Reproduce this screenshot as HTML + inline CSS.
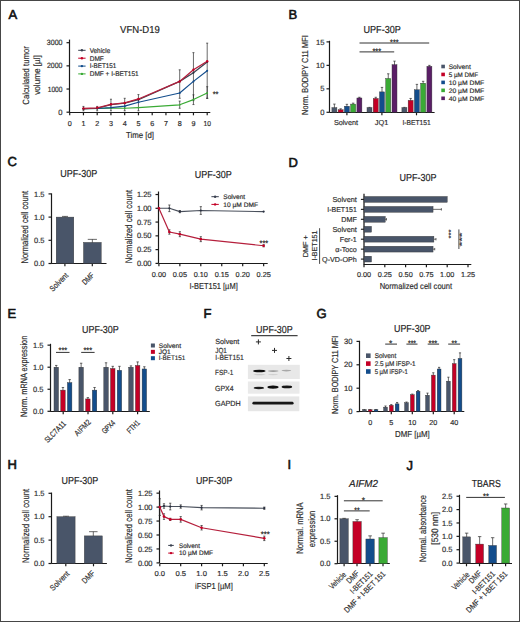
<!DOCTYPE html>
<html><head><meta charset="utf-8"><title>Figure</title>
<style>
html,body{margin:0;padding:0;background:#fff;}
body{width:520px;height:622px;overflow:hidden;}
svg{display:block;font-family:"Liberation Sans",sans-serif;fill:#2e2e2e;text-rendering:geometricPrecision;}

</style></head>
<body>
<svg width="520" height="622" viewBox="0 0 520 622">
<rect x="0" y="0" width="520" height="622" fill="#fff"/>
<text x="8.4" y="18.6" font-size="13" fill="#111" stroke="#111" stroke-width="0.6">A</text>
<text x="288.6" y="18.5" font-size="13" fill="#111" stroke="#111" stroke-width="0.6">B</text>
<text x="7.6" y="166.3" font-size="13" fill="#111" stroke="#111" stroke-width="0.6">C</text>
<text x="288.4" y="166.8" font-size="13" fill="#111" stroke="#111" stroke-width="0.6">D</text>
<text x="7.6" y="317.5" font-size="13" fill="#111" stroke="#111" stroke-width="0.6">E</text>
<text x="203.6" y="318.4" font-size="13" fill="#111" stroke="#111" stroke-width="0.6">F</text>
<text x="316.4" y="318" font-size="13" fill="#111" stroke="#111" stroke-width="0.6">G</text>
<text x="7.4" y="469.3" font-size="13" fill="#111" stroke="#111" stroke-width="0.6">H</text>
<text x="287.6" y="469" font-size="13" fill="#111" stroke="#111" stroke-width="0.6">I</text>
<text x="406.4" y="469.7" font-size="13" fill="#111" stroke="#111" stroke-width="0.6">J</text>
<text x="139.95" y="32.8" font-size="10.2" text-anchor="middle" textLength="39.7" lengthAdjust="spacingAndGlyphs" fill="#222" stroke="#222" stroke-width="0.18">VFN-D19</text>
<line x1="69.5" y1="39.6" x2="69.5" y2="112.4" stroke="#1a1a1a" stroke-width="1.2"/>
<line x1="66.5" y1="42.69" x2="69.5" y2="42.69" stroke="#1a1a1a" stroke-width="1.2"/>
<text x="62.5" y="45.3" font-size="7.6" text-anchor="end" textLength="15.7" lengthAdjust="spacingAndGlyphs" stroke="#2e2e2e" stroke-width="0.18">3000</text>
<line x1="66.5" y1="65.86" x2="69.5" y2="65.86" stroke="#1a1a1a" stroke-width="1.2"/>
<text x="62.5" y="68.47" font-size="7.6" text-anchor="end" textLength="15.5" lengthAdjust="spacingAndGlyphs" stroke="#2e2e2e" stroke-width="0.18">2000</text>
<line x1="66.5" y1="89.03" x2="69.5" y2="89.03" stroke="#1a1a1a" stroke-width="1.2"/>
<text x="62.5" y="91.64" font-size="7.6" text-anchor="end" textLength="14.8" lengthAdjust="spacingAndGlyphs" stroke="#2e2e2e" stroke-width="0.18">1000</text>
<line x1="66.5" y1="112.2" x2="69.5" y2="112.2" stroke="#1a1a1a" stroke-width="1.2"/>
<text x="62.5" y="114.81" font-size="7.6" text-anchor="end" stroke="#2e2e2e" stroke-width="0.18">0</text>
<line x1="69.2" y1="112.5" x2="210.3" y2="112.5" stroke="#1a1a1a" stroke-width="1.2"/>
<line x1="69.7" y1="112.5" x2="69.7" y2="115.3" stroke="#1a1a1a" stroke-width="1.2"/>
<text x="69.7" y="125.78" font-size="7.2" text-anchor="middle" stroke="#2e2e2e" stroke-width="0.18">0</text>
<line x1="83.45" y1="112.5" x2="83.45" y2="115.3" stroke="#1a1a1a" stroke-width="1.2"/>
<text x="83.45" y="125.78" font-size="7.2" text-anchor="middle" stroke="#2e2e2e" stroke-width="0.18">1</text>
<line x1="97.2" y1="112.5" x2="97.2" y2="115.3" stroke="#1a1a1a" stroke-width="1.2"/>
<text x="97.2" y="125.78" font-size="7.2" text-anchor="middle" stroke="#2e2e2e" stroke-width="0.18">2</text>
<line x1="110.95" y1="112.5" x2="110.95" y2="115.3" stroke="#1a1a1a" stroke-width="1.2"/>
<text x="110.95" y="125.78" font-size="7.2" text-anchor="middle" stroke="#2e2e2e" stroke-width="0.18">3</text>
<line x1="124.7" y1="112.5" x2="124.7" y2="115.3" stroke="#1a1a1a" stroke-width="1.2"/>
<text x="124.7" y="125.78" font-size="7.2" text-anchor="middle" stroke="#2e2e2e" stroke-width="0.18">4</text>
<line x1="138.45" y1="112.5" x2="138.45" y2="115.3" stroke="#1a1a1a" stroke-width="1.2"/>
<text x="138.45" y="125.78" font-size="7.2" text-anchor="middle" stroke="#2e2e2e" stroke-width="0.18">5</text>
<line x1="152.2" y1="112.5" x2="152.2" y2="115.3" stroke="#1a1a1a" stroke-width="1.2"/>
<text x="152.2" y="125.78" font-size="7.2" text-anchor="middle" stroke="#2e2e2e" stroke-width="0.18">6</text>
<line x1="165.95" y1="112.5" x2="165.95" y2="115.3" stroke="#1a1a1a" stroke-width="1.2"/>
<text x="165.95" y="125.78" font-size="7.2" text-anchor="middle" stroke="#2e2e2e" stroke-width="0.18">7</text>
<line x1="179.7" y1="112.5" x2="179.7" y2="115.3" stroke="#1a1a1a" stroke-width="1.2"/>
<text x="179.7" y="125.78" font-size="7.2" text-anchor="middle" stroke="#2e2e2e" stroke-width="0.18">8</text>
<line x1="193.45" y1="112.5" x2="193.45" y2="115.3" stroke="#1a1a1a" stroke-width="1.2"/>
<text x="193.45" y="125.78" font-size="7.2" text-anchor="middle" stroke="#2e2e2e" stroke-width="0.18">9</text>
<line x1="207.2" y1="112.5" x2="207.2" y2="115.3" stroke="#1a1a1a" stroke-width="1.2"/>
<text x="207.2" y="125.78" font-size="7.2" text-anchor="middle" textLength="7.5" lengthAdjust="spacingAndGlyphs" stroke="#2e2e2e" stroke-width="0.18">10</text>
<text x="26.3" y="77.65" font-size="9" text-anchor="middle" textLength="58.5" lengthAdjust="spacingAndGlyphs" stroke="#2e2e2e" stroke-width="0.18" transform="rotate(-90 26.3 75.4)">Calculated tumor</text>
<text x="37.8" y="77.25" font-size="9" text-anchor="middle" textLength="39.5" lengthAdjust="spacingAndGlyphs" stroke="#2e2e2e" stroke-width="0.18" transform="rotate(-90 37.8 75)">volume [µl]</text>
<text x="140" y="138.05" font-size="8.6" text-anchor="middle" textLength="28" lengthAdjust="spacingAndGlyphs" stroke="#2e2e2e" stroke-width="0.18">Time [d]</text>
<line x1="83.45" y1="106.41" x2="83.45" y2="110.81" stroke="#2b2b2b" stroke-width="0.7"/>
<line x1="82.45" y1="106.41" x2="84.45" y2="106.41" stroke="#2b2b2b" stroke-width="0.7"/>
<line x1="82.45" y1="110.81" x2="84.45" y2="110.81" stroke="#2b2b2b" stroke-width="0.7"/>
<line x1="97.2" y1="106.41" x2="97.2" y2="110.81" stroke="#2b2b2b" stroke-width="0.7"/>
<line x1="96.2" y1="106.41" x2="98.2" y2="106.41" stroke="#2b2b2b" stroke-width="0.7"/>
<line x1="96.2" y1="110.81" x2="98.2" y2="110.81" stroke="#2b2b2b" stroke-width="0.7"/>
<line x1="110.95" y1="99.22" x2="110.95" y2="110.81" stroke="#2b2b2b" stroke-width="0.7"/>
<line x1="109.95" y1="99.22" x2="111.95" y2="99.22" stroke="#2b2b2b" stroke-width="0.7"/>
<line x1="109.95" y1="110.81" x2="111.95" y2="110.81" stroke="#2b2b2b" stroke-width="0.7"/>
<line x1="124.7" y1="98.3" x2="124.7" y2="110.81" stroke="#2b2b2b" stroke-width="0.7"/>
<line x1="123.7" y1="98.3" x2="125.7" y2="98.3" stroke="#2b2b2b" stroke-width="0.7"/>
<line x1="123.7" y1="110.81" x2="125.7" y2="110.81" stroke="#2b2b2b" stroke-width="0.7"/>
<line x1="138.45" y1="94.59" x2="138.45" y2="110.81" stroke="#2b2b2b" stroke-width="0.7"/>
<line x1="137.45" y1="94.59" x2="139.45" y2="94.59" stroke="#2b2b2b" stroke-width="0.7"/>
<line x1="137.45" y1="110.81" x2="139.45" y2="110.81" stroke="#2b2b2b" stroke-width="0.7"/>
<line x1="179.7" y1="69.8" x2="179.7" y2="98.3" stroke="#2b2b2b" stroke-width="0.7"/>
<line x1="178.7" y1="69.8" x2="180.7" y2="69.8" stroke="#2b2b2b" stroke-width="0.7"/>
<line x1="178.7" y1="98.3" x2="180.7" y2="98.3" stroke="#2b2b2b" stroke-width="0.7"/>
<line x1="193.45" y1="52.65" x2="193.45" y2="100.62" stroke="#2b2b2b" stroke-width="0.7"/>
<line x1="192.45" y1="52.65" x2="194.45" y2="52.65" stroke="#2b2b2b" stroke-width="0.7"/>
<line x1="192.45" y1="100.62" x2="194.45" y2="100.62" stroke="#2b2b2b" stroke-width="0.7"/>
<line x1="207.2" y1="43.15" x2="207.2" y2="98.3" stroke="#2b2b2b" stroke-width="0.7"/>
<line x1="206.2" y1="43.15" x2="208.2" y2="43.15" stroke="#2b2b2b" stroke-width="0.7"/>
<line x1="206.2" y1="98.3" x2="208.2" y2="98.3" stroke="#2b2b2b" stroke-width="0.7"/>
<line x1="179.7" y1="101.08" x2="179.7" y2="108.26" stroke="#2b2b2b" stroke-width="0.7"/>
<line x1="178.7" y1="101.08" x2="180.7" y2="101.08" stroke="#2b2b2b" stroke-width="0.7"/>
<line x1="178.7" y1="108.26" x2="180.7" y2="108.26" stroke="#2b2b2b" stroke-width="0.7"/>
<line x1="193.45" y1="94.82" x2="193.45" y2="104.55" stroke="#2b2b2b" stroke-width="0.7"/>
<line x1="192.45" y1="94.82" x2="194.45" y2="94.82" stroke="#2b2b2b" stroke-width="0.7"/>
<line x1="192.45" y1="104.55" x2="194.45" y2="104.55" stroke="#2b2b2b" stroke-width="0.7"/>
<line x1="207.2" y1="86.71" x2="207.2" y2="98.3" stroke="#2b2b2b" stroke-width="0.7"/>
<line x1="206.2" y1="86.71" x2="208.2" y2="86.71" stroke="#2b2b2b" stroke-width="0.7"/>
<line x1="206.2" y1="98.3" x2="208.2" y2="98.3" stroke="#2b2b2b" stroke-width="0.7"/>
<polyline points="83.45,108.72 97.2,108.49 110.95,108.15 124.7,108.26 138.45,107.57 179.7,104.79 193.45,99.57 207.2,92.97" fill="none" stroke="#3aaa35" stroke-width="1.2" stroke-linejoin="round"/>
<polyline points="83.45,108.72 97.2,108.49 110.95,107.57 124.7,106.18 138.45,102.24 179.7,92.97 193.45,81.38 207.2,70.73" fill="none" stroke="#134d8c" stroke-width="1.2" stroke-linejoin="round"/>
<polyline points="83.45,108.72 97.2,108.26 110.95,104.55 124.7,103.16 138.45,99.69 179.7,81.38 193.45,72.81 207.2,61.92" fill="none" stroke="#3a4150" stroke-width="1.2" stroke-linejoin="round"/>
<polyline points="83.45,108.49 97.2,107.8 110.95,104.32 124.7,102.93 138.45,98.99 179.7,81.38 193.45,69.8 207.2,61.23" fill="none" stroke="#b51f3c" stroke-width="1.3" stroke-linejoin="round"/>
<circle cx="83.45" cy="108.72" r="0.9" fill="#3aaa35"/>
<circle cx="97.2" cy="108.49" r="0.9" fill="#3aaa35"/>
<circle cx="110.95" cy="108.15" r="0.9" fill="#3aaa35"/>
<circle cx="124.7" cy="108.26" r="0.9" fill="#3aaa35"/>
<circle cx="138.45" cy="107.57" r="0.9" fill="#3aaa35"/>
<circle cx="179.7" cy="104.79" r="0.9" fill="#3aaa35"/>
<circle cx="193.45" cy="99.57" r="0.9" fill="#3aaa35"/>
<circle cx="207.2" cy="92.97" r="0.9" fill="#3aaa35"/>
<circle cx="83.45" cy="108.72" r="1" fill="#134d8c"/>
<circle cx="97.2" cy="108.49" r="1" fill="#134d8c"/>
<circle cx="110.95" cy="107.57" r="1" fill="#134d8c"/>
<circle cx="124.7" cy="106.18" r="1" fill="#134d8c"/>
<circle cx="138.45" cy="102.24" r="1" fill="#134d8c"/>
<circle cx="179.7" cy="92.97" r="1" fill="#134d8c"/>
<circle cx="193.45" cy="81.38" r="1" fill="#134d8c"/>
<circle cx="207.2" cy="70.73" r="1" fill="#134d8c"/>
<circle cx="83.45" cy="108.72" r="1" fill="#2a3040"/>
<circle cx="97.2" cy="108.26" r="1" fill="#2a3040"/>
<circle cx="110.95" cy="104.55" r="1" fill="#2a3040"/>
<circle cx="124.7" cy="103.16" r="1" fill="#2a3040"/>
<circle cx="138.45" cy="99.69" r="1" fill="#2a3040"/>
<circle cx="179.7" cy="81.38" r="1" fill="#2a3040"/>
<circle cx="193.45" cy="72.81" r="1" fill="#2a3040"/>
<circle cx="207.2" cy="61.92" r="1" fill="#2a3040"/>
<circle cx="83.45" cy="108.49" r="1.2" fill="#c40026"/>
<circle cx="97.2" cy="107.8" r="1.2" fill="#c40026"/>
<circle cx="110.95" cy="104.32" r="1.2" fill="#c40026"/>
<circle cx="124.7" cy="102.93" r="1.2" fill="#c40026"/>
<circle cx="138.45" cy="98.99" r="1.2" fill="#c40026"/>
<circle cx="179.7" cy="81.38" r="1.2" fill="#c40026"/>
<circle cx="193.45" cy="69.8" r="1.2" fill="#c40026"/>
<circle cx="207.2" cy="61.23" r="1.2" fill="#c40026"/>
<text x="215.6" y="97.04" font-size="8.4" text-anchor="middle" textLength="5.8" lengthAdjust="spacingAndGlyphs" fill="#1e1e1e" stroke="#1e1e1e" stroke-width="0.18">**</text>
<line x1="78.2" y1="50.3" x2="85.6" y2="50.3" stroke="#3a4150" stroke-width="1"/>
<circle cx="81.9" cy="50.3" r="1.2" fill="#3a4150"/>
<text x="89.7" y="52.6" font-size="6.8" textLength="20.5" lengthAdjust="spacingAndGlyphs" stroke="#2e2e2e" stroke-width="0.18">Vehicle</text>
<line x1="78.2" y1="58.2" x2="85.6" y2="58.2" stroke="#c40026" stroke-width="1"/>
<circle cx="81.9" cy="58.2" r="1.2" fill="#c40026"/>
<text x="89.7" y="60.5" font-size="6.8" textLength="14.1" lengthAdjust="spacingAndGlyphs" stroke="#2e2e2e" stroke-width="0.18">DMF</text>
<line x1="78.2" y1="66.1" x2="85.6" y2="66.1" stroke="#134d8c" stroke-width="1"/>
<circle cx="81.9" cy="66.1" r="1.2" fill="#134d8c"/>
<text x="89.7" y="68.4" font-size="6.8" textLength="26.5" lengthAdjust="spacingAndGlyphs" stroke="#2e2e2e" stroke-width="0.18">I-BET151</text>
<line x1="78.2" y1="73.9" x2="85.6" y2="73.9" stroke="#3aaa35" stroke-width="1"/>
<circle cx="81.9" cy="73.9" r="1.2" fill="#3aaa35"/>
<text x="89.7" y="76.2" font-size="6.8" textLength="49" lengthAdjust="spacingAndGlyphs" stroke="#2e2e2e" stroke-width="0.18">DMF + I-BET151</text>
<text x="382.15" y="32.5" font-size="10.2" text-anchor="middle" textLength="37.3" lengthAdjust="spacingAndGlyphs" fill="#222" stroke="#222" stroke-width="0.18">UPF-30P</text>
<line x1="329.5" y1="40.8" x2="329.5" y2="112.5" stroke="#1a1a1a" stroke-width="1.2"/>
<line x1="326.5" y1="41.89" x2="329.5" y2="41.89" stroke="#1a1a1a" stroke-width="1.2"/>
<text x="324.5" y="44.5" font-size="7.6" text-anchor="end" stroke="#2e2e2e" stroke-width="0.18">15</text>
<line x1="326.5" y1="65.36" x2="329.5" y2="65.36" stroke="#1a1a1a" stroke-width="1.2"/>
<text x="324.5" y="67.97" font-size="7.6" text-anchor="end" stroke="#2e2e2e" stroke-width="0.18">10</text>
<line x1="326.5" y1="88.83" x2="329.5" y2="88.83" stroke="#1a1a1a" stroke-width="1.2"/>
<text x="324.5" y="91.44" font-size="7.6" text-anchor="end" stroke="#2e2e2e" stroke-width="0.18">5</text>
<line x1="326.5" y1="112.3" x2="329.5" y2="112.3" stroke="#1a1a1a" stroke-width="1.2"/>
<text x="324.5" y="114.91" font-size="7.6" text-anchor="end" stroke="#2e2e2e" stroke-width="0.18">0</text>
<line x1="329.4" y1="112.5" x2="434.6" y2="112.5" stroke="#1a1a1a" stroke-width="1.2"/>
<line x1="346.9" y1="112.5" x2="346.9" y2="115.3" stroke="#1a1a1a" stroke-width="1.2"/>
<line x1="381.9" y1="112.5" x2="381.9" y2="115.3" stroke="#1a1a1a" stroke-width="1.2"/>
<line x1="416.5" y1="112.5" x2="416.5" y2="115.3" stroke="#1a1a1a" stroke-width="1.2"/>
<text x="346" y="124.7" font-size="7.2" text-anchor="middle" textLength="24.2" lengthAdjust="spacingAndGlyphs" stroke="#2e2e2e" stroke-width="0.18">Solvent</text>
<text x="381.5" y="124.7" font-size="7.2" text-anchor="middle" textLength="13.5" lengthAdjust="spacingAndGlyphs" stroke="#2e2e2e" stroke-width="0.18">JQ1</text>
<text x="416.6" y="125.38" font-size="7.2" text-anchor="middle" textLength="28.3" lengthAdjust="spacingAndGlyphs" stroke="#2e2e2e" stroke-width="0.18">I-BET151</text>
<text x="305.8" y="77.3" font-size="8.8" text-anchor="middle" textLength="79.6" lengthAdjust="spacingAndGlyphs" stroke="#2e2e2e" stroke-width="0.18" transform="rotate(-90 305.8 75.1)">Norm. BODIPY C11 MFI</text>
<line x1="334.4" y1="104.09" x2="334.4" y2="108.11" stroke="#2b2b2b" stroke-width="0.7"/>
<line x1="333.2" y1="104.09" x2="335.6" y2="104.09" stroke="#2b2b2b" stroke-width="0.7"/>
<rect x="331.9" y="107.61" width="5" height="4.69" fill="#495569" stroke="#333" stroke-width="0.4"/>
<line x1="340.65" y1="108.78" x2="340.65" y2="110.22" stroke="#2b2b2b" stroke-width="0.7"/>
<line x1="339.45" y1="108.78" x2="341.85" y2="108.78" stroke="#2b2b2b" stroke-width="0.7"/>
<rect x="338.15" y="109.72" width="5" height="2.58" fill="#c40026" stroke="#333" stroke-width="0.4"/>
<line x1="346.9" y1="104.32" x2="346.9" y2="106.7" stroke="#2b2b2b" stroke-width="0.7"/>
<line x1="345.7" y1="104.32" x2="348.1" y2="104.32" stroke="#2b2b2b" stroke-width="0.7"/>
<rect x="344.4" y="106.2" width="5" height="6.1" fill="#134d8c" stroke="#333" stroke-width="0.4"/>
<line x1="353.15" y1="103.15" x2="353.15" y2="104.59" stroke="#2b2b2b" stroke-width="0.7"/>
<line x1="351.95" y1="103.15" x2="354.35" y2="103.15" stroke="#2b2b2b" stroke-width="0.7"/>
<rect x="350.65" y="104.09" width="5" height="8.21" fill="#3aaa35" stroke="#333" stroke-width="0.4"/>
<line x1="359.4" y1="97.28" x2="359.4" y2="98.48" stroke="#2b2b2b" stroke-width="0.7"/>
<line x1="358.2" y1="97.28" x2="360.6" y2="97.28" stroke="#2b2b2b" stroke-width="0.7"/>
<rect x="356.9" y="97.98" width="5" height="14.32" fill="#5a1e66" stroke="#333" stroke-width="0.4"/>
<line x1="369.5" y1="107.37" x2="369.5" y2="108.11" stroke="#2b2b2b" stroke-width="0.7"/>
<line x1="368.3" y1="107.37" x2="370.7" y2="107.37" stroke="#2b2b2b" stroke-width="0.7"/>
<rect x="367" y="107.61" width="5" height="4.69" fill="#495569" stroke="#333" stroke-width="0.4"/>
<line x1="375.75" y1="97.28" x2="375.75" y2="98.95" stroke="#2b2b2b" stroke-width="0.7"/>
<line x1="374.55" y1="97.28" x2="376.95" y2="97.28" stroke="#2b2b2b" stroke-width="0.7"/>
<rect x="373.25" y="98.45" width="5" height="13.85" fill="#c40026" stroke="#333" stroke-width="0.4"/>
<line x1="382" y1="87.42" x2="382" y2="92.38" stroke="#2b2b2b" stroke-width="0.7"/>
<line x1="380.8" y1="87.42" x2="383.2" y2="87.42" stroke="#2b2b2b" stroke-width="0.7"/>
<rect x="379.5" y="91.88" width="5" height="20.42" fill="#134d8c" stroke="#333" stroke-width="0.4"/>
<line x1="388.25" y1="73.81" x2="388.25" y2="79" stroke="#2b2b2b" stroke-width="0.7"/>
<line x1="387.05" y1="73.81" x2="389.45" y2="73.81" stroke="#2b2b2b" stroke-width="0.7"/>
<rect x="385.75" y="78.5" width="5" height="33.8" fill="#3aaa35" stroke="#333" stroke-width="0.4"/>
<line x1="394.5" y1="61.14" x2="394.5" y2="65.16" stroke="#2b2b2b" stroke-width="0.7"/>
<line x1="393.3" y1="61.14" x2="395.7" y2="61.14" stroke="#2b2b2b" stroke-width="0.7"/>
<rect x="392" y="64.66" width="5" height="47.64" fill="#5a1e66" stroke="#333" stroke-width="0.4"/>
<line x1="404.4" y1="107.37" x2="404.4" y2="108.11" stroke="#2b2b2b" stroke-width="0.7"/>
<line x1="403.2" y1="107.37" x2="405.6" y2="107.37" stroke="#2b2b2b" stroke-width="0.7"/>
<rect x="401.9" y="107.61" width="5" height="4.69" fill="#495569" stroke="#333" stroke-width="0.4"/>
<line x1="410.65" y1="98.45" x2="410.65" y2="100.83" stroke="#2b2b2b" stroke-width="0.7"/>
<line x1="409.45" y1="98.45" x2="411.85" y2="98.45" stroke="#2b2b2b" stroke-width="0.7"/>
<rect x="408.15" y="100.33" width="5" height="11.97" fill="#c40026" stroke="#333" stroke-width="0.4"/>
<line x1="416.9" y1="84.37" x2="416.9" y2="90.27" stroke="#2b2b2b" stroke-width="0.7"/>
<line x1="415.7" y1="84.37" x2="418.1" y2="84.37" stroke="#2b2b2b" stroke-width="0.7"/>
<rect x="414.4" y="89.77" width="5" height="22.53" fill="#134d8c" stroke="#333" stroke-width="0.4"/>
<line x1="423.15" y1="81.32" x2="423.15" y2="83.7" stroke="#2b2b2b" stroke-width="0.7"/>
<line x1="421.95" y1="81.32" x2="424.35" y2="81.32" stroke="#2b2b2b" stroke-width="0.7"/>
<rect x="420.65" y="83.2" width="5" height="29.1" fill="#3aaa35" stroke="#333" stroke-width="0.4"/>
<line x1="429.4" y1="65.36" x2="429.4" y2="66.8" stroke="#2b2b2b" stroke-width="0.7"/>
<line x1="428.2" y1="65.36" x2="430.6" y2="65.36" stroke="#2b2b2b" stroke-width="0.7"/>
<rect x="426.9" y="66.3" width="5" height="46" fill="#5a1e66" stroke="#333" stroke-width="0.4"/>
<line x1="359.5" y1="43" x2="429.2" y2="43" stroke="#333" stroke-width="1"/>
<line x1="359.5" y1="51.9" x2="394.2" y2="51.9" stroke="#333" stroke-width="1"/>
<text x="394.3" y="44.94" font-size="8.4" text-anchor="middle" textLength="8.4" lengthAdjust="spacingAndGlyphs" fill="#1e1e1e" stroke="#1e1e1e" stroke-width="0.18">***</text>
<text x="376.8" y="54.04" font-size="8.4" text-anchor="middle" textLength="8.8" lengthAdjust="spacingAndGlyphs" fill="#1e1e1e" stroke="#1e1e1e" stroke-width="0.18">***</text>
<rect x="441.3" y="64.7" width="3.6" height="3.6" fill="#495569"/>
<text x="448.7" y="68.77" font-size="6.6" textLength="22.1" lengthAdjust="spacingAndGlyphs" stroke="#2e2e2e" stroke-width="0.18">Solvent</text>
<rect x="441.3" y="72.65" width="3.6" height="3.6" fill="#c40026"/>
<text x="448.7" y="76.72" font-size="6.6" textLength="29.5" lengthAdjust="spacingAndGlyphs" stroke="#2e2e2e" stroke-width="0.18">5 µM DMF</text>
<rect x="441.3" y="80.6" width="3.6" height="3.6" fill="#134d8c"/>
<text x="448.7" y="84.67" font-size="6.6" textLength="35.5" lengthAdjust="spacingAndGlyphs" stroke="#2e2e2e" stroke-width="0.18">10 µM DMF</text>
<rect x="441.3" y="88.55" width="3.6" height="3.6" fill="#3aaa35"/>
<text x="448.7" y="92.62" font-size="6.6" textLength="35.5" lengthAdjust="spacingAndGlyphs" stroke="#2e2e2e" stroke-width="0.18">20 µM DMF</text>
<rect x="441.3" y="96.5" width="3.6" height="3.6" fill="#5a1e66"/>
<text x="448.7" y="100.57" font-size="6.6" textLength="35.5" lengthAdjust="spacingAndGlyphs" stroke="#2e2e2e" stroke-width="0.18">40 µM DMF</text>
<text x="78.8" y="177" font-size="10.2" text-anchor="middle" textLength="37" lengthAdjust="spacingAndGlyphs" fill="#222" stroke="#222" stroke-width="0.18">UPF-30P</text>
<line x1="51.5" y1="193.4" x2="51.5" y2="263.7" stroke="#1a1a1a" stroke-width="1.2"/>
<line x1="48.5" y1="193.9" x2="51.5" y2="193.9" stroke="#1a1a1a" stroke-width="1.2"/>
<text x="44.5" y="196.51" font-size="7.6" text-anchor="end" textLength="10.4" lengthAdjust="spacingAndGlyphs" stroke="#2e2e2e" stroke-width="0.18">1.5</text>
<line x1="48.5" y1="217.1" x2="51.5" y2="217.1" stroke="#1a1a1a" stroke-width="1.2"/>
<text x="44.5" y="219.71" font-size="7.6" text-anchor="end" textLength="10.4" lengthAdjust="spacingAndGlyphs" stroke="#2e2e2e" stroke-width="0.18">1.0</text>
<line x1="48.5" y1="240.3" x2="51.5" y2="240.3" stroke="#1a1a1a" stroke-width="1.2"/>
<text x="44.5" y="242.91" font-size="7.6" text-anchor="end" textLength="10.4" lengthAdjust="spacingAndGlyphs" stroke="#2e2e2e" stroke-width="0.18">0.5</text>
<line x1="48.5" y1="263.5" x2="51.5" y2="263.5" stroke="#1a1a1a" stroke-width="1.2"/>
<text x="44.5" y="266.11" font-size="7.6" text-anchor="end" textLength="10.4" lengthAdjust="spacingAndGlyphs" stroke="#2e2e2e" stroke-width="0.18">0.0</text>
<line x1="51.3" y1="263.5" x2="106.5" y2="263.5" stroke="#1a1a1a" stroke-width="1.2"/>
<line x1="64.9" y1="263.5" x2="64.9" y2="266.3" stroke="#1a1a1a" stroke-width="1.2"/>
<line x1="92.3" y1="263.5" x2="92.3" y2="266.3" stroke="#1a1a1a" stroke-width="1.2"/>
<line x1="65" y1="216.4" x2="65" y2="217.6" stroke="#2b2b2b" stroke-width="0.7"/>
<line x1="62" y1="216.4" x2="68" y2="216.4" stroke="#2b2b2b" stroke-width="0.7"/>
<rect x="56.2" y="217.1" width="17.6" height="46.4" fill="#495569" stroke="#333" stroke-width="0.4"/>
<line x1="92.35" y1="239.37" x2="92.35" y2="242.89" stroke="#2b2b2b" stroke-width="0.7"/>
<line x1="87.75" y1="239.37" x2="96.95" y2="239.37" stroke="#2b2b2b" stroke-width="0.7"/>
<rect x="83.5" y="242.39" width="17.7" height="21.11" fill="#495569" stroke="#333" stroke-width="0.4"/>
<text x="25.6" y="229.7" font-size="9.6" text-anchor="middle" textLength="72.6" lengthAdjust="spacingAndGlyphs" stroke="#2e2e2e" stroke-width="0.18" transform="rotate(-90 25.6 227.3)">Normalized cell count</text>
<text x="68.9" y="275.86" font-size="8" text-anchor="end" textLength="22.86" lengthAdjust="spacingAndGlyphs" stroke="#2e2e2e" stroke-width="0.18" transform="rotate(-45 68.9 275.86)">Solvent</text>
<text x="94.7" y="275.86" font-size="8" text-anchor="end" textLength="13.31" lengthAdjust="spacingAndGlyphs" stroke="#2e2e2e" stroke-width="0.18" transform="rotate(-45 94.7 275.86)">DMF</text>
<text x="213.3" y="177.7" font-size="10.2" text-anchor="middle" textLength="37" lengthAdjust="spacingAndGlyphs" fill="#222" stroke="#222" stroke-width="0.18">UPF-30P</text>
<line x1="158.5" y1="191.5" x2="158.5" y2="263.6" stroke="#1a1a1a" stroke-width="1.2"/>
<line x1="155.5" y1="194.52" x2="158.5" y2="194.52" stroke="#1a1a1a" stroke-width="1.2"/>
<text x="151.5" y="197.14" font-size="7.6" text-anchor="end" textLength="14.6" lengthAdjust="spacingAndGlyphs" stroke="#2e2e2e" stroke-width="0.18">1.25</text>
<line x1="155.5" y1="208.3" x2="158.5" y2="208.3" stroke="#1a1a1a" stroke-width="1.2"/>
<text x="151.5" y="210.91" font-size="7.6" text-anchor="end" textLength="14.6" lengthAdjust="spacingAndGlyphs" stroke="#2e2e2e" stroke-width="0.18">1.00</text>
<line x1="155.5" y1="222.07" x2="158.5" y2="222.07" stroke="#1a1a1a" stroke-width="1.2"/>
<text x="151.5" y="224.69" font-size="7.6" text-anchor="end" textLength="14.6" lengthAdjust="spacingAndGlyphs" stroke="#2e2e2e" stroke-width="0.18">0.75</text>
<line x1="155.5" y1="235.85" x2="158.5" y2="235.85" stroke="#1a1a1a" stroke-width="1.2"/>
<text x="151.5" y="238.46" font-size="7.6" text-anchor="end" textLength="14.6" lengthAdjust="spacingAndGlyphs" stroke="#2e2e2e" stroke-width="0.18">0.50</text>
<line x1="155.5" y1="249.62" x2="158.5" y2="249.62" stroke="#1a1a1a" stroke-width="1.2"/>
<text x="151.5" y="252.24" font-size="7.6" text-anchor="end" textLength="14.6" lengthAdjust="spacingAndGlyphs" stroke="#2e2e2e" stroke-width="0.18">0.25</text>
<line x1="155.5" y1="263.4" x2="158.5" y2="263.4" stroke="#1a1a1a" stroke-width="1.2"/>
<text x="151.5" y="266.01" font-size="7.6" text-anchor="end" textLength="14.6" lengthAdjust="spacingAndGlyphs" stroke="#2e2e2e" stroke-width="0.18">0.00</text>
<line x1="158.9" y1="263.5" x2="267.7" y2="263.5" stroke="#1a1a1a" stroke-width="1.2"/>
<line x1="158.9" y1="263.5" x2="158.9" y2="266.3" stroke="#1a1a1a" stroke-width="1.2"/>
<text x="158.9" y="277.28" font-size="7.2" text-anchor="middle" textLength="14.2" lengthAdjust="spacingAndGlyphs" stroke="#2e2e2e" stroke-width="0.18">0.00</text>
<line x1="179.85" y1="263.5" x2="179.85" y2="266.3" stroke="#1a1a1a" stroke-width="1.2"/>
<text x="179.85" y="277.28" font-size="7.2" text-anchor="middle" textLength="14.2" lengthAdjust="spacingAndGlyphs" stroke="#2e2e2e" stroke-width="0.18">0.05</text>
<line x1="200.8" y1="263.5" x2="200.8" y2="266.3" stroke="#1a1a1a" stroke-width="1.2"/>
<text x="200.8" y="277.28" font-size="7.2" text-anchor="middle" textLength="14.2" lengthAdjust="spacingAndGlyphs" stroke="#2e2e2e" stroke-width="0.18">0.10</text>
<line x1="221.75" y1="263.5" x2="221.75" y2="266.3" stroke="#1a1a1a" stroke-width="1.2"/>
<text x="221.75" y="277.28" font-size="7.2" text-anchor="middle" textLength="14.2" lengthAdjust="spacingAndGlyphs" stroke="#2e2e2e" stroke-width="0.18">0.15</text>
<line x1="242.7" y1="263.5" x2="242.7" y2="266.3" stroke="#1a1a1a" stroke-width="1.2"/>
<text x="242.7" y="277.28" font-size="7.2" text-anchor="middle" textLength="14.2" lengthAdjust="spacingAndGlyphs" stroke="#2e2e2e" stroke-width="0.18">0.20</text>
<line x1="263.65" y1="263.5" x2="263.65" y2="266.3" stroke="#1a1a1a" stroke-width="1.2"/>
<text x="263.65" y="277.28" font-size="7.2" text-anchor="middle" textLength="14.2" lengthAdjust="spacingAndGlyphs" stroke="#2e2e2e" stroke-width="0.18">0.25</text>
<text x="129.5" y="229" font-size="9.6" text-anchor="middle" textLength="73.5" lengthAdjust="spacingAndGlyphs" stroke="#2e2e2e" stroke-width="0.18" transform="rotate(-90 129.5 226.6)">Normalized cell count</text>
<text x="213.6" y="289.45" font-size="8.6" text-anchor="middle" textLength="48.2" lengthAdjust="spacingAndGlyphs" stroke="#2e2e2e" stroke-width="0.18">I-BET151 [µM]</text>
<line x1="169.38" y1="204.99" x2="169.38" y2="211.61" stroke="#2b2b2b" stroke-width="0.7"/>
<line x1="168.28" y1="204.99" x2="170.47" y2="204.99" stroke="#2b2b2b" stroke-width="0.7"/>
<line x1="168.28" y1="211.61" x2="170.47" y2="211.61" stroke="#2b2b2b" stroke-width="0.7"/>
<line x1="179.85" y1="210.5" x2="179.85" y2="212.71" stroke="#2b2b2b" stroke-width="0.7"/>
<line x1="178.75" y1="210.5" x2="180.95" y2="210.5" stroke="#2b2b2b" stroke-width="0.7"/>
<line x1="178.75" y1="212.71" x2="180.95" y2="212.71" stroke="#2b2b2b" stroke-width="0.7"/>
<line x1="200.8" y1="206.65" x2="200.8" y2="214.36" stroke="#2b2b2b" stroke-width="0.7"/>
<line x1="199.7" y1="206.65" x2="201.9" y2="206.65" stroke="#2b2b2b" stroke-width="0.7"/>
<line x1="199.7" y1="214.36" x2="201.9" y2="214.36" stroke="#2b2b2b" stroke-width="0.7"/>
<line x1="169.38" y1="229.79" x2="169.38" y2="234.2" stroke="#2b2b2b" stroke-width="0.7"/>
<line x1="168.28" y1="229.79" x2="170.47" y2="229.79" stroke="#2b2b2b" stroke-width="0.7"/>
<line x1="168.28" y1="234.2" x2="170.47" y2="234.2" stroke="#2b2b2b" stroke-width="0.7"/>
<line x1="179.85" y1="231.72" x2="179.85" y2="236.68" stroke="#2b2b2b" stroke-width="0.7"/>
<line x1="178.75" y1="231.72" x2="180.95" y2="231.72" stroke="#2b2b2b" stroke-width="0.7"/>
<line x1="178.75" y1="236.68" x2="180.95" y2="236.68" stroke="#2b2b2b" stroke-width="0.7"/>
<line x1="200.8" y1="236.68" x2="200.8" y2="241.64" stroke="#2b2b2b" stroke-width="0.7"/>
<line x1="199.7" y1="236.68" x2="201.9" y2="236.68" stroke="#2b2b2b" stroke-width="0.7"/>
<line x1="199.7" y1="241.64" x2="201.9" y2="241.64" stroke="#2b2b2b" stroke-width="0.7"/>
<line x1="263.65" y1="244.67" x2="263.65" y2="246.87" stroke="#2b2b2b" stroke-width="0.7"/>
<line x1="262.55" y1="244.67" x2="264.75" y2="244.67" stroke="#2b2b2b" stroke-width="0.7"/>
<line x1="262.55" y1="246.87" x2="264.75" y2="246.87" stroke="#2b2b2b" stroke-width="0.7"/>
<polyline points="158.9,208.3 169.38,208.3 179.85,211.61 200.8,210.5 263.65,211.61" fill="none" stroke="#4a505c" stroke-width="1.1" stroke-linejoin="round"/>
<polyline points="158.9,208.3 169.38,231.99 179.85,234.2 200.8,239.16 263.65,245.77" fill="none" stroke="#b51f3c" stroke-width="1.2" stroke-linejoin="round"/>
<circle cx="158.9" cy="208.3" r="1.1" fill="#2a3040"/>
<circle cx="169.38" cy="208.3" r="1.1" fill="#2a3040"/>
<circle cx="179.85" cy="211.61" r="1.1" fill="#2a3040"/>
<circle cx="200.8" cy="210.5" r="1.1" fill="#2a3040"/>
<circle cx="263.65" cy="211.61" r="1.1" fill="#2a3040"/>
<circle cx="158.9" cy="208.3" r="1.3" fill="#c40026"/>
<circle cx="169.38" cy="231.99" r="1.3" fill="#c40026"/>
<circle cx="179.85" cy="234.2" r="1.3" fill="#c40026"/>
<circle cx="200.8" cy="239.16" r="1.3" fill="#c40026"/>
<circle cx="263.65" cy="245.77" r="1.3" fill="#c40026"/>
<text x="263.85" y="245.84" font-size="8.4" text-anchor="middle" textLength="8.7" lengthAdjust="spacingAndGlyphs" fill="#1e1e1e" stroke="#1e1e1e" stroke-width="0.18">***</text>
<line x1="211.4" y1="196.7" x2="218.8" y2="196.7" stroke="#3a4150" stroke-width="1"/>
<circle cx="215.1" cy="196.7" r="1.2" fill="#3a4150"/>
<text x="223.3" y="198.97" font-size="6.6" textLength="21.9" lengthAdjust="spacingAndGlyphs" stroke="#2e2e2e" stroke-width="0.18">Solvent</text>
<line x1="211.4" y1="204.4" x2="218.8" y2="204.4" stroke="#c40026" stroke-width="1"/>
<circle cx="215.1" cy="204.4" r="1.2" fill="#c40026"/>
<text x="223.3" y="206.67" font-size="6.6" textLength="34.7" lengthAdjust="spacingAndGlyphs" stroke="#2e2e2e" stroke-width="0.18">10 µM DMF</text>
<text x="418.1" y="180.7" font-size="10.2" text-anchor="middle" textLength="37" lengthAdjust="spacingAndGlyphs" fill="#222" stroke="#222" stroke-width="0.18">UPF-30P</text>
<line x1="364" y1="193.8" x2="364" y2="265" stroke="#1a1a1a" stroke-width="1.25"/>
<line x1="360.9" y1="199.4" x2="364" y2="199.4" stroke="#1a1a1a" stroke-width="1.1"/>
<text x="356.8" y="201.88" font-size="7.2" text-anchor="end" textLength="24.3" lengthAdjust="spacingAndGlyphs" stroke="#2e2e2e" stroke-width="0.18">Solvent</text>
<rect x="364" y="196.5" width="83.2" height="5.8" fill="#495569" stroke="#333" stroke-width="0.4"/>
<line x1="360.9" y1="209.35" x2="364" y2="209.35" stroke="#1a1a1a" stroke-width="1.1"/>
<text x="356.8" y="211.83" font-size="7.2" text-anchor="end" textLength="29.5" lengthAdjust="spacingAndGlyphs" stroke="#2e2e2e" stroke-width="0.18">I-BET151</text>
<line x1="433.06" y1="209.35" x2="441.38" y2="209.35" stroke="#2b2b2b" stroke-width="0.7"/>
<line x1="441.38" y1="208.15" x2="441.38" y2="210.55" stroke="#2b2b2b" stroke-width="0.7"/>
<rect x="364" y="206.45" width="69.06" height="5.8" fill="#495569" stroke="#333" stroke-width="0.4"/>
<line x1="360.9" y1="219.3" x2="364" y2="219.3" stroke="#1a1a1a" stroke-width="1.1"/>
<text x="356.8" y="221.78" font-size="7.2" text-anchor="end" textLength="15.5" lengthAdjust="spacingAndGlyphs" stroke="#2e2e2e" stroke-width="0.18">DMF</text>
<line x1="385.22" y1="219.3" x2="386.46" y2="219.3" stroke="#2b2b2b" stroke-width="0.7"/>
<line x1="386.46" y1="218.1" x2="386.46" y2="220.5" stroke="#2b2b2b" stroke-width="0.7"/>
<rect x="364" y="216.4" width="21.22" height="5.8" fill="#495569" stroke="#333" stroke-width="0.4"/>
<line x1="360.9" y1="229.25" x2="364" y2="229.25" stroke="#1a1a1a" stroke-width="1.1"/>
<text x="356.8" y="231.73" font-size="7.2" text-anchor="end" textLength="24.3" lengthAdjust="spacingAndGlyphs" stroke="#2e2e2e" stroke-width="0.18">Solvent</text>
<rect x="364" y="226.35" width="7.49" height="5.8" fill="#495569" stroke="#333" stroke-width="0.4"/>
<line x1="360.9" y1="239.2" x2="364" y2="239.2" stroke="#1a1a1a" stroke-width="1.1"/>
<text x="356.8" y="241.68" font-size="7.2" text-anchor="end" textLength="17" lengthAdjust="spacingAndGlyphs" stroke="#2e2e2e" stroke-width="0.18">Fer-1</text>
<line x1="433.89" y1="239.2" x2="435.97" y2="239.2" stroke="#2b2b2b" stroke-width="0.7"/>
<line x1="435.97" y1="238" x2="435.97" y2="240.4" stroke="#2b2b2b" stroke-width="0.7"/>
<rect x="364" y="236.3" width="69.89" height="5.8" fill="#495569" stroke="#333" stroke-width="0.4"/>
<line x1="360.9" y1="249.15" x2="364" y2="249.15" stroke="#1a1a1a" stroke-width="1.1"/>
<text x="356.8" y="251.63" font-size="7.2" text-anchor="end" textLength="21.5" lengthAdjust="spacingAndGlyphs" stroke="#2e2e2e" stroke-width="0.18">α-Toco</text>
<line x1="433.06" y1="249.15" x2="434.72" y2="249.15" stroke="#2b2b2b" stroke-width="0.7"/>
<line x1="434.72" y1="247.95" x2="434.72" y2="250.35" stroke="#2b2b2b" stroke-width="0.7"/>
<rect x="364" y="246.25" width="69.06" height="5.8" fill="#495569" stroke="#333" stroke-width="0.4"/>
<line x1="360.9" y1="259.1" x2="364" y2="259.1" stroke="#1a1a1a" stroke-width="1.1"/>
<text x="356.8" y="261.58" font-size="7.2" text-anchor="end" textLength="34.7" lengthAdjust="spacingAndGlyphs" stroke="#2e2e2e" stroke-width="0.18">Q-VD-OPh</text>
<rect x="364" y="256.2" width="7.49" height="5.8" fill="#495569" stroke="#333" stroke-width="0.4"/>
<line x1="364" y1="264.5" x2="471.3" y2="264.5" stroke="#1a1a1a" stroke-width="1.2"/>
<line x1="364" y1="264.5" x2="364" y2="267.3" stroke="#1a1a1a" stroke-width="1.2"/>
<text x="364" y="276.68" font-size="7.2" text-anchor="middle" textLength="14.2" lengthAdjust="spacingAndGlyphs" stroke="#2e2e2e" stroke-width="0.18">0.00</text>
<line x1="384.8" y1="264.5" x2="384.8" y2="267.3" stroke="#1a1a1a" stroke-width="1.2"/>
<text x="384.8" y="276.68" font-size="7.2" text-anchor="middle" textLength="14.2" lengthAdjust="spacingAndGlyphs" stroke="#2e2e2e" stroke-width="0.18">0.25</text>
<line x1="405.6" y1="264.5" x2="405.6" y2="267.3" stroke="#1a1a1a" stroke-width="1.2"/>
<text x="405.6" y="276.68" font-size="7.2" text-anchor="middle" textLength="14.2" lengthAdjust="spacingAndGlyphs" stroke="#2e2e2e" stroke-width="0.18">0.50</text>
<line x1="426.4" y1="264.5" x2="426.4" y2="267.3" stroke="#1a1a1a" stroke-width="1.2"/>
<text x="426.4" y="276.68" font-size="7.2" text-anchor="middle" textLength="14.2" lengthAdjust="spacingAndGlyphs" stroke="#2e2e2e" stroke-width="0.18">0.75</text>
<line x1="447.2" y1="264.5" x2="447.2" y2="267.3" stroke="#1a1a1a" stroke-width="1.2"/>
<text x="447.2" y="276.68" font-size="7.2" text-anchor="middle" textLength="14.2" lengthAdjust="spacingAndGlyphs" stroke="#2e2e2e" stroke-width="0.18">1.00</text>
<line x1="468" y1="264.5" x2="468" y2="267.3" stroke="#1a1a1a" stroke-width="1.2"/>
<text x="468" y="276.68" font-size="7.2" text-anchor="middle" textLength="14.2" lengthAdjust="spacingAndGlyphs" stroke="#2e2e2e" stroke-width="0.18">1.25</text>
<text x="415.9" y="289.05" font-size="8.6" text-anchor="middle" textLength="72.5" lengthAdjust="spacingAndGlyphs" stroke="#2e2e2e" stroke-width="0.18">Normalized cell count</text>
<line x1="319.6" y1="228.2" x2="319.6" y2="263.9" stroke="#333" stroke-width="0.9"/>
<text x="305.9" y="248" font-size="7.2" text-anchor="middle" textLength="22" lengthAdjust="spacingAndGlyphs" stroke="#2e2e2e" stroke-width="0.18" transform="rotate(-90 305.9 246.2)">DMF +</text>
<text x="314.6" y="247.98" font-size="7.2" text-anchor="middle" textLength="30" lengthAdjust="spacingAndGlyphs" stroke="#2e2e2e" stroke-width="0.18" transform="rotate(-90 314.6 245.5)">I-BET151</text>
<text x="451.2" y="236.24" font-size="6.5" text-anchor="middle" textLength="9" lengthAdjust="spacingAndGlyphs" stroke="#2e2e2e" stroke-width="0.18" transform="rotate(-90 451.2 234)">***</text>
<line x1="458.9" y1="229.4" x2="458.9" y2="249" stroke="#333" stroke-width="0.9"/>
<text x="461.4" y="241.74" font-size="6.5" text-anchor="middle" textLength="14" lengthAdjust="spacingAndGlyphs" stroke="#2e2e2e" stroke-width="0.18" transform="rotate(-90 461.4 239.5)">***</text>
<text x="100.4" y="332.5" font-size="10.2" text-anchor="middle" textLength="36.8" lengthAdjust="spacingAndGlyphs" fill="#222" stroke="#222" stroke-width="0.18">UPF-30P</text>
<line x1="50.5" y1="343.8" x2="50.5" y2="411.6" stroke="#1a1a1a" stroke-width="1.2"/>
<line x1="47.5" y1="345.15" x2="50.5" y2="345.15" stroke="#1a1a1a" stroke-width="1.2"/>
<text x="43.5" y="347.76" font-size="7.6" text-anchor="end" textLength="10.4" lengthAdjust="spacingAndGlyphs" stroke="#2e2e2e" stroke-width="0.18">1.5</text>
<line x1="47.5" y1="367.2" x2="50.5" y2="367.2" stroke="#1a1a1a" stroke-width="1.2"/>
<text x="43.5" y="369.81" font-size="7.6" text-anchor="end" textLength="10.4" lengthAdjust="spacingAndGlyphs" stroke="#2e2e2e" stroke-width="0.18">1.0</text>
<line x1="47.5" y1="389.25" x2="50.5" y2="389.25" stroke="#1a1a1a" stroke-width="1.2"/>
<text x="43.5" y="391.86" font-size="7.6" text-anchor="end" textLength="10.4" lengthAdjust="spacingAndGlyphs" stroke="#2e2e2e" stroke-width="0.18">0.5</text>
<line x1="47.5" y1="411.3" x2="50.5" y2="411.3" stroke="#1a1a1a" stroke-width="1.2"/>
<text x="43.5" y="413.91" font-size="7.6" text-anchor="end" textLength="10.4" lengthAdjust="spacingAndGlyphs" stroke="#2e2e2e" stroke-width="0.18">0.0</text>
<line x1="50.3" y1="411.5" x2="149.8" y2="411.5" stroke="#1a1a1a" stroke-width="1.2"/>
<line x1="63.2" y1="411.5" x2="63.2" y2="414.3" stroke="#1a1a1a" stroke-width="1.2"/>
<line x1="88" y1="411.5" x2="88" y2="414.3" stroke="#1a1a1a" stroke-width="1.2"/>
<line x1="112.8" y1="411.5" x2="112.8" y2="414.3" stroke="#1a1a1a" stroke-width="1.2"/>
<line x1="137.6" y1="411.5" x2="137.6" y2="414.3" stroke="#1a1a1a" stroke-width="1.2"/>
<line x1="56.25" y1="365.44" x2="56.25" y2="367.7" stroke="#2b2b2b" stroke-width="0.7"/>
<line x1="55.05" y1="365.44" x2="57.45" y2="365.44" stroke="#2b2b2b" stroke-width="0.7"/>
<rect x="54" y="367.2" width="4.5" height="44.1" fill="#495569" stroke="#333" stroke-width="0.4"/>
<line x1="62.95" y1="387.49" x2="62.95" y2="390.63" stroke="#2b2b2b" stroke-width="0.7"/>
<line x1="61.75" y1="387.49" x2="64.15" y2="387.49" stroke="#2b2b2b" stroke-width="0.7"/>
<rect x="60.7" y="390.13" width="4.5" height="21.17" fill="#c40026" stroke="#333" stroke-width="0.4"/>
<line x1="69.65" y1="379.55" x2="69.65" y2="383.13" stroke="#2b2b2b" stroke-width="0.7"/>
<line x1="68.45" y1="379.55" x2="70.85" y2="379.55" stroke="#2b2b2b" stroke-width="0.7"/>
<rect x="67.4" y="382.63" width="4.5" height="28.67" fill="#134d8c" stroke="#333" stroke-width="0.4"/>
<line x1="81.15" y1="363.23" x2="81.15" y2="367.7" stroke="#2b2b2b" stroke-width="0.7"/>
<line x1="79.95" y1="363.23" x2="82.35" y2="363.23" stroke="#2b2b2b" stroke-width="0.7"/>
<rect x="78.9" y="367.2" width="4.5" height="44.1" fill="#495569" stroke="#333" stroke-width="0.4"/>
<line x1="87.85" y1="397.63" x2="87.85" y2="399.45" stroke="#2b2b2b" stroke-width="0.7"/>
<line x1="86.65" y1="397.63" x2="89.05" y2="397.63" stroke="#2b2b2b" stroke-width="0.7"/>
<rect x="85.6" y="398.95" width="4.5" height="12.35" fill="#c40026" stroke="#333" stroke-width="0.4"/>
<line x1="94.55" y1="387.49" x2="94.55" y2="390.63" stroke="#2b2b2b" stroke-width="0.7"/>
<line x1="93.35" y1="387.49" x2="95.75" y2="387.49" stroke="#2b2b2b" stroke-width="0.7"/>
<rect x="92.3" y="390.13" width="4.5" height="21.17" fill="#134d8c" stroke="#333" stroke-width="0.4"/>
<line x1="106.05" y1="362.79" x2="106.05" y2="367.7" stroke="#2b2b2b" stroke-width="0.7"/>
<line x1="104.85" y1="362.79" x2="107.25" y2="362.79" stroke="#2b2b2b" stroke-width="0.7"/>
<rect x="103.8" y="367.2" width="4.5" height="44.1" fill="#495569" stroke="#333" stroke-width="0.4"/>
<line x1="112.75" y1="366.32" x2="112.75" y2="369.02" stroke="#2b2b2b" stroke-width="0.7"/>
<line x1="111.55" y1="366.32" x2="113.95" y2="366.32" stroke="#2b2b2b" stroke-width="0.7"/>
<rect x="110.5" y="368.52" width="4.5" height="42.78" fill="#c40026" stroke="#333" stroke-width="0.4"/>
<line x1="119.45" y1="366.32" x2="119.45" y2="370.79" stroke="#2b2b2b" stroke-width="0.7"/>
<line x1="118.25" y1="366.32" x2="120.65" y2="366.32" stroke="#2b2b2b" stroke-width="0.7"/>
<rect x="117.2" y="370.29" width="4.5" height="41.01" fill="#134d8c" stroke="#333" stroke-width="0.4"/>
<line x1="130.95" y1="365.88" x2="130.95" y2="367.7" stroke="#2b2b2b" stroke-width="0.7"/>
<line x1="129.75" y1="365.88" x2="132.15" y2="365.88" stroke="#2b2b2b" stroke-width="0.7"/>
<rect x="128.7" y="367.2" width="4.5" height="44.1" fill="#495569" stroke="#333" stroke-width="0.4"/>
<line x1="137.65" y1="361.91" x2="137.65" y2="365.94" stroke="#2b2b2b" stroke-width="0.7"/>
<line x1="136.45" y1="361.91" x2="138.85" y2="361.91" stroke="#2b2b2b" stroke-width="0.7"/>
<rect x="135.4" y="365.44" width="4.5" height="45.86" fill="#c40026" stroke="#333" stroke-width="0.4"/>
<line x1="144.35" y1="366.76" x2="144.35" y2="369.46" stroke="#2b2b2b" stroke-width="0.7"/>
<line x1="143.15" y1="366.76" x2="145.55" y2="366.76" stroke="#2b2b2b" stroke-width="0.7"/>
<rect x="142.1" y="368.96" width="4.5" height="42.34" fill="#134d8c" stroke="#333" stroke-width="0.4"/>
<line x1="56" y1="352.4" x2="69.5" y2="352.4" stroke="#333" stroke-width="1"/>
<line x1="81.2" y1="352.4" x2="94.6" y2="352.4" stroke="#333" stroke-width="1"/>
<text x="62.85" y="353.04" font-size="8.4" text-anchor="middle" textLength="8.7" lengthAdjust="spacingAndGlyphs" fill="#1e1e1e" stroke="#1e1e1e" stroke-width="0.18">***</text>
<text x="87.8" y="353.04" font-size="8.4" text-anchor="middle" textLength="8.8" lengthAdjust="spacingAndGlyphs" fill="#1e1e1e" stroke="#1e1e1e" stroke-width="0.18">***</text>
<rect x="150.9" y="343.5" width="4" height="4" fill="#495569"/>
<text x="158.7" y="347.77" font-size="6.6" textLength="22.4" lengthAdjust="spacingAndGlyphs" stroke="#2e2e2e" stroke-width="0.18">Solvent</text>
<rect x="150.9" y="349.85" width="4" height="4" fill="#c40026"/>
<text x="158.7" y="354.12" font-size="6.6" textLength="12" lengthAdjust="spacingAndGlyphs" stroke="#2e2e2e" stroke-width="0.18">JQ1</text>
<rect x="150.9" y="356.2" width="4" height="4" fill="#134d8c"/>
<text x="158.7" y="360.47" font-size="6.6" textLength="26.7" lengthAdjust="spacingAndGlyphs" stroke="#2e2e2e" stroke-width="0.18">I-BET151</text>
<text x="25.1" y="378.6" font-size="9.2" text-anchor="middle" textLength="81.2" lengthAdjust="spacingAndGlyphs" stroke="#2e2e2e" stroke-width="0.18" transform="rotate(-90 25.1 376.3)">Norm. mRNA expression</text>
<text x="66.5" y="424.36" font-size="8" text-anchor="end" textLength="26.68" lengthAdjust="spacingAndGlyphs" stroke="#2e2e2e" stroke-width="0.18" transform="rotate(-45 66.5 424.36)">SLC7A11</text>
<text x="91.3" y="422.76" font-size="8" text-anchor="end" textLength="19.46" lengthAdjust="spacingAndGlyphs" stroke="#2e2e2e" stroke-width="0.18" transform="rotate(-45 91.3 422.76)">AIFM2</text>
<text x="115.9" y="423.36" font-size="8" text-anchor="end" textLength="15.57" lengthAdjust="spacingAndGlyphs" stroke="#2e2e2e" stroke-width="0.18" transform="rotate(-45 115.9 423.36)">GPX4</text>
<text x="140.45" y="423.36" font-size="8" text-anchor="end" textLength="14.9" lengthAdjust="spacingAndGlyphs" stroke="#2e2e2e" stroke-width="0.18" transform="rotate(-45 140.45 423.36)">FTH1</text>
<text x="274.4" y="332.7" font-size="10.2" text-anchor="middle" textLength="36.8" lengthAdjust="spacingAndGlyphs" fill="#222" stroke="#222" stroke-width="0.18">UPF-30P</text>
<line x1="251.2" y1="335.6" x2="297.6" y2="335.6" stroke="#444" stroke-width="1.3"/>
<text x="215.3" y="344.45" font-size="7.4" textLength="24" lengthAdjust="spacingAndGlyphs" stroke="#2e2e2e" stroke-width="0.18">Solvent</text>
<text x="215.3" y="352.95" font-size="7.4" textLength="11.5" lengthAdjust="spacingAndGlyphs" stroke="#2e2e2e" stroke-width="0.18">JQ1</text>
<text x="215.3" y="360.45" font-size="7.4" textLength="28.4" lengthAdjust="spacingAndGlyphs" stroke="#2e2e2e" stroke-width="0.18">I-BET151</text>
<line x1="255.9" y1="341.9" x2="260.9" y2="341.9" stroke="#2a2a2a" stroke-width="1"/>
<line x1="258.4" y1="339.4" x2="258.4" y2="344.4" stroke="#2a2a2a" stroke-width="1"/>
<line x1="272" y1="350.4" x2="277" y2="350.4" stroke="#2a2a2a" stroke-width="1"/>
<line x1="274.5" y1="347.9" x2="274.5" y2="352.9" stroke="#2a2a2a" stroke-width="1"/>
<line x1="286.4" y1="358.5" x2="291.4" y2="358.5" stroke="#2a2a2a" stroke-width="1"/>
<line x1="288.9" y1="356" x2="288.9" y2="361" stroke="#2a2a2a" stroke-width="1"/>
<text x="215.1" y="374.95" font-size="7.4" textLength="18.1" lengthAdjust="spacingAndGlyphs" stroke="#2e2e2e" stroke-width="0.18">FSP-1</text>
<text x="215.1" y="390.55" font-size="7.4" textLength="18.4" lengthAdjust="spacingAndGlyphs" stroke="#2e2e2e" stroke-width="0.18">GPX4</text>
<text x="215.1" y="405.75" font-size="7.4" textLength="25.6" lengthAdjust="spacingAndGlyphs" stroke="#2e2e2e" stroke-width="0.18">GAPDH</text>
<defs><filter id="bl" x="-30%" y="-200%" width="160%" height="500%"><feGaussianBlur stdDeviation="0.7"/></filter><filter id="bl2" x="-10%" y="-20%" width="120%" height="140%"><feGaussianBlur stdDeviation="0.5"/></filter></defs>
<g filter="url(#bl2)">
<rect x="247.9" y="364.8" width="51.9" height="14.2" fill="#e8e8e8"/>
<rect x="247.9" y="381.5" width="51.6" height="12.2" fill="#eaeaea"/>
<rect x="247.9" y="396.4" width="51.4" height="14.8" fill="#e6e6e6"/>
</g>
<g filter="url(#bl)">
<ellipse cx="259.3" cy="371.0" rx="6.3" ry="1.25" fill="#111"/>
<ellipse cx="273.2" cy="371.1" rx="5.3" ry="0.8" fill="#9a9a9a"/>
<ellipse cx="286.4" cy="370.6" rx="4.8" ry="0.8" fill="#a8a8a8"/>
<ellipse cx="259.5" cy="374.6" rx="6.0" ry="0.6" fill="#c8c8c8"/>
<ellipse cx="273.0" cy="374.6" rx="5.0" ry="0.55" fill="#d0d0d0"/>
<ellipse cx="258.9" cy="388.0" rx="5.2" ry="1.15" fill="#1c1c1c"/>
<ellipse cx="273.0" cy="387.1" rx="5.6" ry="1.6" fill="#0e0e0e"/>
<ellipse cx="286.9" cy="386.9" rx="5.3" ry="1.35" fill="#141414"/>
<rect x="252.4" y="401.8" width="41.2" height="2.7" fill="#161616" rx="1.35"/>
</g>
<text x="412.25" y="332.4" font-size="10.2" text-anchor="middle" textLength="36.5" lengthAdjust="spacingAndGlyphs" fill="#222" stroke="#222" stroke-width="0.18">UPF-30P</text>
<line x1="359.5" y1="340.8" x2="359.5" y2="411.8" stroke="#1a1a1a" stroke-width="1.2"/>
<line x1="356.5" y1="341.4" x2="359.5" y2="341.4" stroke="#1a1a1a" stroke-width="1.2"/>
<text x="352.5" y="344.01" font-size="7.6" text-anchor="end" stroke="#2e2e2e" stroke-width="0.18">30</text>
<line x1="356.5" y1="364.8" x2="359.5" y2="364.8" stroke="#1a1a1a" stroke-width="1.2"/>
<text x="352.5" y="367.41" font-size="7.6" text-anchor="end" stroke="#2e2e2e" stroke-width="0.18">20</text>
<line x1="356.5" y1="388.2" x2="359.5" y2="388.2" stroke="#1a1a1a" stroke-width="1.2"/>
<text x="352.5" y="390.81" font-size="7.6" text-anchor="end" stroke="#2e2e2e" stroke-width="0.18">10</text>
<line x1="356.5" y1="411.6" x2="359.5" y2="411.6" stroke="#1a1a1a" stroke-width="1.2"/>
<text x="352.5" y="414.21" font-size="7.6" text-anchor="end" stroke="#2e2e2e" stroke-width="0.18">0</text>
<line x1="359.2" y1="411.5" x2="464.3" y2="411.5" stroke="#1a1a1a" stroke-width="1.2"/>
<line x1="370.2" y1="411.5" x2="370.2" y2="414.3" stroke="#1a1a1a" stroke-width="1.2"/>
<text x="370.2" y="424.58" font-size="7.2" text-anchor="middle" stroke="#2e2e2e" stroke-width="0.18">0</text>
<line x1="391.3" y1="411.5" x2="391.3" y2="414.3" stroke="#1a1a1a" stroke-width="1.2"/>
<text x="391.3" y="424.58" font-size="7.2" text-anchor="middle" stroke="#2e2e2e" stroke-width="0.18">5</text>
<line x1="412.3" y1="411.5" x2="412.3" y2="414.3" stroke="#1a1a1a" stroke-width="1.2"/>
<text x="412.3" y="424.58" font-size="7.2" text-anchor="middle" stroke="#2e2e2e" stroke-width="0.18">10</text>
<line x1="433.3" y1="411.5" x2="433.3" y2="414.3" stroke="#1a1a1a" stroke-width="1.2"/>
<text x="433.3" y="424.58" font-size="7.2" text-anchor="middle" stroke="#2e2e2e" stroke-width="0.18">20</text>
<line x1="454.2" y1="411.5" x2="454.2" y2="414.3" stroke="#1a1a1a" stroke-width="1.2"/>
<text x="454.2" y="424.58" font-size="7.2" text-anchor="middle" stroke="#2e2e2e" stroke-width="0.18">40</text>
<line x1="364.4" y1="409.49" x2="364.4" y2="410.23" stroke="#2b2b2b" stroke-width="0.7"/>
<line x1="363.3" y1="409.49" x2="365.5" y2="409.49" stroke="#2b2b2b" stroke-width="0.7"/>
<rect x="362.5" y="409.73" width="3.8" height="1.87" fill="#495569" stroke="#333" stroke-width="0.4"/>
<line x1="370.2" y1="409.49" x2="370.2" y2="410.23" stroke="#2b2b2b" stroke-width="0.7"/>
<line x1="369.1" y1="409.49" x2="371.3" y2="409.49" stroke="#2b2b2b" stroke-width="0.7"/>
<rect x="368.3" y="409.73" width="3.8" height="1.87" fill="#c40026" stroke="#333" stroke-width="0.4"/>
<line x1="376" y1="409.49" x2="376" y2="410.23" stroke="#2b2b2b" stroke-width="0.7"/>
<line x1="374.9" y1="409.49" x2="377.1" y2="409.49" stroke="#2b2b2b" stroke-width="0.7"/>
<rect x="374.1" y="409.73" width="3.8" height="1.87" fill="#134d8c" stroke="#333" stroke-width="0.4"/>
<line x1="385.5" y1="405.98" x2="385.5" y2="407.65" stroke="#2b2b2b" stroke-width="0.7"/>
<line x1="384.4" y1="405.98" x2="386.6" y2="405.98" stroke="#2b2b2b" stroke-width="0.7"/>
<rect x="383.6" y="407.15" width="3.8" height="4.45" fill="#495569" stroke="#333" stroke-width="0.4"/>
<line x1="391.3" y1="404.58" x2="391.3" y2="405.78" stroke="#2b2b2b" stroke-width="0.7"/>
<line x1="390.2" y1="404.58" x2="392.4" y2="404.58" stroke="#2b2b2b" stroke-width="0.7"/>
<rect x="389.4" y="405.28" width="3.8" height="6.32" fill="#c40026" stroke="#333" stroke-width="0.4"/>
<line x1="397.1" y1="402.47" x2="397.1" y2="404.38" stroke="#2b2b2b" stroke-width="0.7"/>
<line x1="396" y1="402.47" x2="398.2" y2="402.47" stroke="#2b2b2b" stroke-width="0.7"/>
<rect x="395.2" y="403.88" width="3.8" height="7.72" fill="#134d8c" stroke="#333" stroke-width="0.4"/>
<line x1="406.5" y1="402.01" x2="406.5" y2="403.21" stroke="#2b2b2b" stroke-width="0.7"/>
<line x1="405.4" y1="402.01" x2="407.6" y2="402.01" stroke="#2b2b2b" stroke-width="0.7"/>
<rect x="404.6" y="402.71" width="3.8" height="8.89" fill="#495569" stroke="#333" stroke-width="0.4"/>
<line x1="412.3" y1="394.05" x2="412.3" y2="395.25" stroke="#2b2b2b" stroke-width="0.7"/>
<line x1="411.2" y1="394.05" x2="413.4" y2="394.05" stroke="#2b2b2b" stroke-width="0.7"/>
<rect x="410.4" y="394.75" width="3.8" height="16.85" fill="#c40026" stroke="#333" stroke-width="0.4"/>
<line x1="418.1" y1="390.54" x2="418.1" y2="391.74" stroke="#2b2b2b" stroke-width="0.7"/>
<line x1="417" y1="390.54" x2="419.2" y2="390.54" stroke="#2b2b2b" stroke-width="0.7"/>
<rect x="416.2" y="391.24" width="3.8" height="20.36" fill="#134d8c" stroke="#333" stroke-width="0.4"/>
<line x1="427.5" y1="393.11" x2="427.5" y2="395.72" stroke="#2b2b2b" stroke-width="0.7"/>
<line x1="426.4" y1="393.11" x2="428.6" y2="393.11" stroke="#2b2b2b" stroke-width="0.7"/>
<rect x="425.6" y="395.22" width="3.8" height="16.38" fill="#495569" stroke="#333" stroke-width="0.4"/>
<line x1="433.3" y1="372.76" x2="433.3" y2="375.6" stroke="#2b2b2b" stroke-width="0.7"/>
<line x1="432.2" y1="372.76" x2="434.4" y2="372.76" stroke="#2b2b2b" stroke-width="0.7"/>
<rect x="431.4" y="375.1" width="3.8" height="36.5" fill="#c40026" stroke="#333" stroke-width="0.4"/>
<line x1="439.1" y1="367.37" x2="439.1" y2="369.51" stroke="#2b2b2b" stroke-width="0.7"/>
<line x1="438" y1="367.37" x2="440.2" y2="367.37" stroke="#2b2b2b" stroke-width="0.7"/>
<rect x="437.2" y="369.01" width="3.8" height="42.59" fill="#134d8c" stroke="#333" stroke-width="0.4"/>
<line x1="448.4" y1="377.2" x2="448.4" y2="381.68" stroke="#2b2b2b" stroke-width="0.7"/>
<line x1="447.3" y1="377.2" x2="449.5" y2="377.2" stroke="#2b2b2b" stroke-width="0.7"/>
<rect x="446.5" y="381.18" width="3.8" height="30.42" fill="#495569" stroke="#333" stroke-width="0.4"/>
<line x1="454.2" y1="359.65" x2="454.2" y2="364.13" stroke="#2b2b2b" stroke-width="0.7"/>
<line x1="453.1" y1="359.65" x2="455.3" y2="359.65" stroke="#2b2b2b" stroke-width="0.7"/>
<rect x="452.3" y="363.63" width="3.8" height="47.97" fill="#c40026" stroke="#333" stroke-width="0.4"/>
<line x1="460" y1="352.87" x2="460" y2="358.98" stroke="#2b2b2b" stroke-width="0.7"/>
<line x1="458.9" y1="352.87" x2="461.1" y2="352.87" stroke="#2b2b2b" stroke-width="0.7"/>
<rect x="458.1" y="358.48" width="3.8" height="53.12" fill="#134d8c" stroke="#333" stroke-width="0.4"/>
<line x1="385.2" y1="344.1" x2="397" y2="344.1" stroke="#333" stroke-width="1"/>
<text x="390.7" y="346.44" font-size="8.4" text-anchor="middle" fill="#1e1e1e" stroke="#1e1e1e" stroke-width="0.18">*</text>
<line x1="406.4" y1="344.1" x2="417.5" y2="344.1" stroke="#333" stroke-width="1"/>
<text x="411.95" y="346.44" font-size="8.4" text-anchor="middle" textLength="7.9" lengthAdjust="spacingAndGlyphs" fill="#1e1e1e" stroke="#1e1e1e" stroke-width="0.18">***</text>
<line x1="427.7" y1="344.1" x2="439.1" y2="344.1" stroke="#333" stroke-width="1"/>
<text x="432.85" y="346.44" font-size="8.4" text-anchor="middle" textLength="8.7" lengthAdjust="spacingAndGlyphs" fill="#1e1e1e" stroke="#1e1e1e" stroke-width="0.18">***</text>
<line x1="448.2" y1="344.1" x2="460.1" y2="344.1" stroke="#333" stroke-width="1"/>
<text x="454.15" y="346.44" font-size="8.4" text-anchor="middle" textLength="5.5" lengthAdjust="spacingAndGlyphs" fill="#1e1e1e" stroke="#1e1e1e" stroke-width="0.18">**</text>
<rect x="366" y="353.4" width="4.6" height="4.6" fill="#495569"/>
<text x="374.7" y="357.94" font-size="6.8" textLength="21.5" lengthAdjust="spacingAndGlyphs" stroke="#2e2e2e" stroke-width="0.18">Solvent</text>
<rect x="366" y="361.3" width="4.6" height="4.6" fill="#c40026"/>
<text x="374.7" y="365.84" font-size="6.8" textLength="40.9" lengthAdjust="spacingAndGlyphs" stroke="#2e2e2e" stroke-width="0.18">2.5 µM iFSP-1</text>
<rect x="366" y="369.2" width="4.6" height="4.6" fill="#134d8c"/>
<text x="374.7" y="373.74" font-size="6.8" textLength="33" lengthAdjust="spacingAndGlyphs" stroke="#2e2e2e" stroke-width="0.18">5 µM iFSP-1</text>
<text x="335.5" y="377" font-size="8.8" text-anchor="middle" textLength="78.2" lengthAdjust="spacingAndGlyphs" stroke="#2e2e2e" stroke-width="0.18" transform="rotate(-90 335.5 374.8)">Norm. BODIPY C11 MFI</text>
<text x="412.4" y="437.05" font-size="8.6" text-anchor="middle" textLength="34.8" lengthAdjust="spacingAndGlyphs" stroke="#2e2e2e" stroke-width="0.18">DMF [µM]</text>
<text x="79.9" y="484" font-size="10.2" text-anchor="middle" textLength="36.8" lengthAdjust="spacingAndGlyphs" fill="#222" stroke="#222" stroke-width="0.18">UPF-30P</text>
<line x1="51.5" y1="492.6" x2="51.5" y2="563.7" stroke="#1a1a1a" stroke-width="1.2"/>
<line x1="48.5" y1="493.3" x2="51.5" y2="493.3" stroke="#1a1a1a" stroke-width="1.2"/>
<text x="44.5" y="495.91" font-size="7.6" text-anchor="end" textLength="10.4" lengthAdjust="spacingAndGlyphs" stroke="#2e2e2e" stroke-width="0.18">1.5</text>
<line x1="48.5" y1="516.7" x2="51.5" y2="516.7" stroke="#1a1a1a" stroke-width="1.2"/>
<text x="44.5" y="519.31" font-size="7.6" text-anchor="end" textLength="10.4" lengthAdjust="spacingAndGlyphs" stroke="#2e2e2e" stroke-width="0.18">1.0</text>
<line x1="48.5" y1="540.1" x2="51.5" y2="540.1" stroke="#1a1a1a" stroke-width="1.2"/>
<text x="44.5" y="542.71" font-size="7.6" text-anchor="end" textLength="10.4" lengthAdjust="spacingAndGlyphs" stroke="#2e2e2e" stroke-width="0.18">0.5</text>
<line x1="48.5" y1="563.5" x2="51.5" y2="563.5" stroke="#1a1a1a" stroke-width="1.2"/>
<text x="44.5" y="566.11" font-size="7.6" text-anchor="end" textLength="10.4" lengthAdjust="spacingAndGlyphs" stroke="#2e2e2e" stroke-width="0.18">0.0</text>
<line x1="51.7" y1="563.5" x2="106.9" y2="563.5" stroke="#1a1a1a" stroke-width="1.2"/>
<line x1="65.8" y1="563.5" x2="65.8" y2="566.3" stroke="#1a1a1a" stroke-width="1.2"/>
<line x1="93.5" y1="563.5" x2="93.5" y2="566.3" stroke="#1a1a1a" stroke-width="1.2"/>
<line x1="66" y1="516.23" x2="66" y2="517.2" stroke="#2b2b2b" stroke-width="0.7"/>
<line x1="63" y1="516.23" x2="69" y2="516.23" stroke="#2b2b2b" stroke-width="0.7"/>
<rect x="56.9" y="516.7" width="18.2" height="46.8" fill="#495569" stroke="#333" stroke-width="0.4"/>
<line x1="93.3" y1="531.68" x2="93.3" y2="536.39" stroke="#2b2b2b" stroke-width="0.7"/>
<line x1="89.05" y1="531.68" x2="97.55" y2="531.68" stroke="#2b2b2b" stroke-width="0.7"/>
<rect x="84.3" y="535.89" width="18" height="27.61" fill="#495569" stroke="#333" stroke-width="0.4"/>
<text x="26.9" y="528.3" font-size="9.6" text-anchor="middle" textLength="74.3" lengthAdjust="spacingAndGlyphs" stroke="#2e2e2e" stroke-width="0.18" transform="rotate(-90 26.9 525.9)">Normalized cell count</text>
<text x="70" y="574.26" font-size="8" text-anchor="end" textLength="23.99" lengthAdjust="spacingAndGlyphs" stroke="#2e2e2e" stroke-width="0.18" transform="rotate(-45 70 574.26)">Solvent</text>
<text x="95.3" y="573.76" font-size="8" text-anchor="end" textLength="14.44" lengthAdjust="spacingAndGlyphs" stroke="#2e2e2e" stroke-width="0.18" transform="rotate(-45 95.3 573.76)">DMF</text>
<text x="214.15" y="484" font-size="10.2" text-anchor="middle" textLength="36.3" lengthAdjust="spacingAndGlyphs" fill="#222" stroke="#222" stroke-width="0.18">UPF-30P</text>
<line x1="159.5" y1="490.5" x2="159.5" y2="563.2" stroke="#1a1a1a" stroke-width="1.2"/>
<line x1="156.5" y1="493.15" x2="159.5" y2="493.15" stroke="#1a1a1a" stroke-width="1.2"/>
<text x="152.5" y="495.76" font-size="7.6" text-anchor="end" textLength="14.6" lengthAdjust="spacingAndGlyphs" stroke="#2e2e2e" stroke-width="0.18">1.25</text>
<line x1="156.5" y1="507.1" x2="159.5" y2="507.1" stroke="#1a1a1a" stroke-width="1.2"/>
<text x="152.5" y="509.71" font-size="7.6" text-anchor="end" textLength="14.6" lengthAdjust="spacingAndGlyphs" stroke="#2e2e2e" stroke-width="0.18">1.00</text>
<line x1="156.5" y1="521.05" x2="159.5" y2="521.05" stroke="#1a1a1a" stroke-width="1.2"/>
<text x="152.5" y="523.66" font-size="7.6" text-anchor="end" textLength="14.6" lengthAdjust="spacingAndGlyphs" stroke="#2e2e2e" stroke-width="0.18">0.75</text>
<line x1="156.5" y1="535" x2="159.5" y2="535" stroke="#1a1a1a" stroke-width="1.2"/>
<text x="152.5" y="537.61" font-size="7.6" text-anchor="end" textLength="14.6" lengthAdjust="spacingAndGlyphs" stroke="#2e2e2e" stroke-width="0.18">0.50</text>
<line x1="156.5" y1="548.95" x2="159.5" y2="548.95" stroke="#1a1a1a" stroke-width="1.2"/>
<text x="152.5" y="551.56" font-size="7.6" text-anchor="end" textLength="14.6" lengthAdjust="spacingAndGlyphs" stroke="#2e2e2e" stroke-width="0.18">0.25</text>
<line x1="156.5" y1="562.9" x2="159.5" y2="562.9" stroke="#1a1a1a" stroke-width="1.2"/>
<text x="152.5" y="565.51" font-size="7.6" text-anchor="end" textLength="14.6" lengthAdjust="spacingAndGlyphs" stroke="#2e2e2e" stroke-width="0.18">0.00</text>
<line x1="159.8" y1="563.5" x2="267.7" y2="563.5" stroke="#1a1a1a" stroke-width="1.2"/>
<line x1="159.8" y1="563.5" x2="159.8" y2="566.3" stroke="#1a1a1a" stroke-width="1.2"/>
<text x="159.8" y="576.28" font-size="7.2" text-anchor="middle" textLength="10.6" lengthAdjust="spacingAndGlyphs" stroke="#2e2e2e" stroke-width="0.18">0.0</text>
<line x1="180.7" y1="563.5" x2="180.7" y2="566.3" stroke="#1a1a1a" stroke-width="1.2"/>
<text x="180.7" y="576.28" font-size="7.2" text-anchor="middle" textLength="10.6" lengthAdjust="spacingAndGlyphs" stroke="#2e2e2e" stroke-width="0.18">0.5</text>
<line x1="201.6" y1="563.5" x2="201.6" y2="566.3" stroke="#1a1a1a" stroke-width="1.2"/>
<text x="201.6" y="576.28" font-size="7.2" text-anchor="middle" textLength="10.6" lengthAdjust="spacingAndGlyphs" stroke="#2e2e2e" stroke-width="0.18">1.0</text>
<line x1="222.5" y1="563.5" x2="222.5" y2="566.3" stroke="#1a1a1a" stroke-width="1.2"/>
<text x="222.5" y="576.28" font-size="7.2" text-anchor="middle" textLength="10.6" lengthAdjust="spacingAndGlyphs" stroke="#2e2e2e" stroke-width="0.18">1.5</text>
<line x1="243.4" y1="563.5" x2="243.4" y2="566.3" stroke="#1a1a1a" stroke-width="1.2"/>
<text x="243.4" y="576.28" font-size="7.2" text-anchor="middle" textLength="10.6" lengthAdjust="spacingAndGlyphs" stroke="#2e2e2e" stroke-width="0.18">2.0</text>
<line x1="264.3" y1="563.5" x2="264.3" y2="566.3" stroke="#1a1a1a" stroke-width="1.2"/>
<text x="264.3" y="576.28" font-size="7.2" text-anchor="middle" textLength="10.6" lengthAdjust="spacingAndGlyphs" stroke="#2e2e2e" stroke-width="0.18">2.5</text>
<text x="129.7" y="528.4" font-size="9.6" text-anchor="middle" textLength="74" lengthAdjust="spacingAndGlyphs" stroke="#2e2e2e" stroke-width="0.18" transform="rotate(-90 129.7 526)">Normalized cell count</text>
<text x="213.9" y="589.45" font-size="8.6" text-anchor="middle" textLength="37.8" lengthAdjust="spacingAndGlyphs" stroke="#2e2e2e" stroke-width="0.18">iFSP1 [µM]</text>
<line x1="159.8" y1="498.73" x2="159.8" y2="515.47" stroke="#2b2b2b" stroke-width="0.7"/>
<line x1="158.7" y1="498.73" x2="160.9" y2="498.73" stroke="#2b2b2b" stroke-width="0.7"/>
<line x1="158.7" y1="515.47" x2="160.9" y2="515.47" stroke="#2b2b2b" stroke-width="0.7"/>
<line x1="163.98" y1="503.75" x2="163.98" y2="508.22" stroke="#2b2b2b" stroke-width="0.7"/>
<line x1="162.88" y1="503.75" x2="165.08" y2="503.75" stroke="#2b2b2b" stroke-width="0.7"/>
<line x1="162.88" y1="508.22" x2="165.08" y2="508.22" stroke="#2b2b2b" stroke-width="0.7"/>
<line x1="170.25" y1="503.19" x2="170.25" y2="509.89" stroke="#2b2b2b" stroke-width="0.7"/>
<line x1="169.15" y1="503.19" x2="171.35" y2="503.19" stroke="#2b2b2b" stroke-width="0.7"/>
<line x1="169.15" y1="509.89" x2="171.35" y2="509.89" stroke="#2b2b2b" stroke-width="0.7"/>
<line x1="180.7" y1="504.87" x2="180.7" y2="508.22" stroke="#2b2b2b" stroke-width="0.7"/>
<line x1="179.6" y1="504.87" x2="181.8" y2="504.87" stroke="#2b2b2b" stroke-width="0.7"/>
<line x1="179.6" y1="508.22" x2="181.8" y2="508.22" stroke="#2b2b2b" stroke-width="0.7"/>
<line x1="201.6" y1="505.43" x2="201.6" y2="509.89" stroke="#2b2b2b" stroke-width="0.7"/>
<line x1="200.5" y1="505.43" x2="202.7" y2="505.43" stroke="#2b2b2b" stroke-width="0.7"/>
<line x1="200.5" y1="509.89" x2="202.7" y2="509.89" stroke="#2b2b2b" stroke-width="0.7"/>
<line x1="264.3" y1="507.1" x2="264.3" y2="509.33" stroke="#2b2b2b" stroke-width="0.7"/>
<line x1="263.2" y1="507.1" x2="265.4" y2="507.1" stroke="#2b2b2b" stroke-width="0.7"/>
<line x1="263.2" y1="509.33" x2="265.4" y2="509.33" stroke="#2b2b2b" stroke-width="0.7"/>
<line x1="163.98" y1="513.8" x2="163.98" y2="519.38" stroke="#2b2b2b" stroke-width="0.7"/>
<line x1="162.88" y1="513.8" x2="165.08" y2="513.8" stroke="#2b2b2b" stroke-width="0.7"/>
<line x1="162.88" y1="519.38" x2="165.08" y2="519.38" stroke="#2b2b2b" stroke-width="0.7"/>
<line x1="170.25" y1="518.26" x2="170.25" y2="520.49" stroke="#2b2b2b" stroke-width="0.7"/>
<line x1="169.15" y1="518.26" x2="171.35" y2="518.26" stroke="#2b2b2b" stroke-width="0.7"/>
<line x1="169.15" y1="520.49" x2="171.35" y2="520.49" stroke="#2b2b2b" stroke-width="0.7"/>
<line x1="180.7" y1="516.59" x2="180.7" y2="522.17" stroke="#2b2b2b" stroke-width="0.7"/>
<line x1="179.6" y1="516.59" x2="181.8" y2="516.59" stroke="#2b2b2b" stroke-width="0.7"/>
<line x1="179.6" y1="522.17" x2="181.8" y2="522.17" stroke="#2b2b2b" stroke-width="0.7"/>
<line x1="201.6" y1="525.51" x2="201.6" y2="529.98" stroke="#2b2b2b" stroke-width="0.7"/>
<line x1="200.5" y1="525.51" x2="202.7" y2="525.51" stroke="#2b2b2b" stroke-width="0.7"/>
<line x1="200.5" y1="529.98" x2="202.7" y2="529.98" stroke="#2b2b2b" stroke-width="0.7"/>
<line x1="264.3" y1="536.12" x2="264.3" y2="540.58" stroke="#2b2b2b" stroke-width="0.7"/>
<line x1="263.2" y1="536.12" x2="265.4" y2="536.12" stroke="#2b2b2b" stroke-width="0.7"/>
<line x1="263.2" y1="540.58" x2="265.4" y2="540.58" stroke="#2b2b2b" stroke-width="0.7"/>
<polyline points="159.8,507.1 163.98,505.98 170.25,506.54 180.7,506.54 201.6,507.66 264.3,508.22" fill="none" stroke="#4a505c" stroke-width="1.1" stroke-linejoin="round"/>
<polyline points="159.8,507.1 163.98,516.59 170.25,519.38 180.7,519.38 201.6,527.75 264.3,538.35" fill="none" stroke="#b51f3c" stroke-width="1.2" stroke-linejoin="round"/>
<circle cx="159.8" cy="507.1" r="1.1" fill="#2a3040"/>
<circle cx="163.98" cy="505.98" r="1.1" fill="#2a3040"/>
<circle cx="170.25" cy="506.54" r="1.1" fill="#2a3040"/>
<circle cx="180.7" cy="506.54" r="1.1" fill="#2a3040"/>
<circle cx="201.6" cy="507.66" r="1.1" fill="#2a3040"/>
<circle cx="264.3" cy="508.22" r="1.1" fill="#2a3040"/>
<circle cx="159.8" cy="507.1" r="1.3" fill="#c40026"/>
<circle cx="163.98" cy="516.59" r="1.3" fill="#c40026"/>
<circle cx="170.25" cy="519.38" r="1.3" fill="#c40026"/>
<circle cx="180.7" cy="519.38" r="1.3" fill="#c40026"/>
<circle cx="201.6" cy="527.75" r="1.3" fill="#c40026"/>
<circle cx="264.3" cy="538.35" r="1.3" fill="#c40026"/>
<text x="265.3" y="537.04" font-size="8.4" text-anchor="middle" textLength="9" lengthAdjust="spacingAndGlyphs" fill="#1e1e1e" stroke="#1e1e1e" stroke-width="0.18">***</text>
<line x1="168.2" y1="545.4" x2="173.8" y2="545.4" stroke="#3a4150" stroke-width="1"/>
<circle cx="171" cy="545.4" r="1.2" fill="#3a4150"/>
<text x="179" y="547.67" font-size="6.6" textLength="21" lengthAdjust="spacingAndGlyphs" stroke="#2e2e2e" stroke-width="0.18">Solvent</text>
<line x1="168.2" y1="553.1" x2="173.8" y2="553.1" stroke="#c40026" stroke-width="1"/>
<circle cx="171" cy="553.1" r="1.2" fill="#c40026"/>
<text x="179" y="555.37" font-size="6.6" textLength="34" lengthAdjust="spacingAndGlyphs" stroke="#2e2e2e" stroke-width="0.18">10 µM DMF</text>
<text x="363.55" y="486.7" font-size="10.2" text-anchor="middle" textLength="28.9" lengthAdjust="spacingAndGlyphs" fill="#222" stroke="#222" stroke-width="0.18" font-style="italic">AIFM2</text>
<line x1="337.5" y1="495.2" x2="337.5" y2="563.9" stroke="#1a1a1a" stroke-width="1.2"/>
<line x1="334.5" y1="496.35" x2="337.5" y2="496.35" stroke="#1a1a1a" stroke-width="1.2"/>
<text x="330.5" y="498.96" font-size="7.6" text-anchor="end" textLength="10.4" lengthAdjust="spacingAndGlyphs" stroke="#2e2e2e" stroke-width="0.18">1.5</text>
<line x1="334.5" y1="518.8" x2="337.5" y2="518.8" stroke="#1a1a1a" stroke-width="1.2"/>
<text x="330.5" y="521.41" font-size="7.6" text-anchor="end" textLength="10.4" lengthAdjust="spacingAndGlyphs" stroke="#2e2e2e" stroke-width="0.18">1.0</text>
<line x1="334.5" y1="541.25" x2="337.5" y2="541.25" stroke="#1a1a1a" stroke-width="1.2"/>
<text x="330.5" y="543.86" font-size="7.6" text-anchor="end" textLength="10.4" lengthAdjust="spacingAndGlyphs" stroke="#2e2e2e" stroke-width="0.18">0.5</text>
<line x1="334.5" y1="563.7" x2="337.5" y2="563.7" stroke="#1a1a1a" stroke-width="1.2"/>
<text x="330.5" y="566.31" font-size="7.6" text-anchor="end" textLength="10.4" lengthAdjust="spacingAndGlyphs" stroke="#2e2e2e" stroke-width="0.18">0.0</text>
<line x1="337.3" y1="563.5" x2="389.8" y2="563.5" stroke="#1a1a1a" stroke-width="1.2"/>
<line x1="344.1" y1="563.5" x2="344.1" y2="566.3" stroke="#1a1a1a" stroke-width="1.2"/>
<line x1="357" y1="563.5" x2="357" y2="566.3" stroke="#1a1a1a" stroke-width="1.2"/>
<line x1="370" y1="563.5" x2="370" y2="566.3" stroke="#1a1a1a" stroke-width="1.2"/>
<line x1="383" y1="563.5" x2="383" y2="566.3" stroke="#1a1a1a" stroke-width="1.2"/>
<line x1="344.1" y1="518.35" x2="344.1" y2="519.3" stroke="#2b2b2b" stroke-width="0.7"/>
<line x1="342.3" y1="518.35" x2="345.9" y2="518.35" stroke="#2b2b2b" stroke-width="0.7"/>
<rect x="339.9" y="518.8" width="8.4" height="44.9" fill="#495569" stroke="#333" stroke-width="0.4"/>
<line x1="357.1" y1="519.7" x2="357.1" y2="521.99" stroke="#2b2b2b" stroke-width="0.7"/>
<line x1="355.3" y1="519.7" x2="358.9" y2="519.7" stroke="#2b2b2b" stroke-width="0.7"/>
<rect x="352.9" y="521.49" width="8.4" height="42.21" fill="#c40026" stroke="#333" stroke-width="0.4"/>
<line x1="370.1" y1="535.86" x2="370.1" y2="539.5" stroke="#2b2b2b" stroke-width="0.7"/>
<line x1="368.3" y1="535.86" x2="371.9" y2="535.86" stroke="#2b2b2b" stroke-width="0.7"/>
<rect x="365.9" y="539" width="8.4" height="24.7" fill="#134d8c" stroke="#333" stroke-width="0.4"/>
<line x1="383.1" y1="533.17" x2="383.1" y2="538.16" stroke="#2b2b2b" stroke-width="0.7"/>
<line x1="381.3" y1="533.17" x2="384.9" y2="533.17" stroke="#2b2b2b" stroke-width="0.7"/>
<rect x="378.9" y="537.66" width="8.4" height="26.04" fill="#3aaa35" stroke="#333" stroke-width="0.4"/>
<line x1="343.9" y1="500.8" x2="382.7" y2="500.8" stroke="#333" stroke-width="1"/>
<line x1="343.9" y1="510.9" x2="369.7" y2="510.9" stroke="#333" stroke-width="1"/>
<text x="363.5" y="502.84" font-size="8.4" text-anchor="middle" fill="#1e1e1e" stroke="#1e1e1e" stroke-width="0.18">*</text>
<text x="357" y="512.94" font-size="8.4" text-anchor="middle" textLength="5.3" lengthAdjust="spacingAndGlyphs" fill="#1e1e1e" stroke="#1e1e1e" stroke-width="0.18">**</text>
<text x="300.2" y="530.35" font-size="9.4" text-anchor="middle" textLength="51.3" lengthAdjust="spacingAndGlyphs" stroke="#2e2e2e" stroke-width="0.18" transform="rotate(-90 300.2 528)">Normal. mRNA</text>
<text x="312.3" y="531.35" font-size="9.4" text-anchor="middle" textLength="36.6" lengthAdjust="spacingAndGlyphs" stroke="#2e2e2e" stroke-width="0.18" transform="rotate(-90 312.3 529)">expression</text>
<text x="346.9" y="575.16" font-size="8" text-anchor="end" textLength="20.67" lengthAdjust="spacingAndGlyphs" stroke="#2e2e2e" stroke-width="0.18" transform="rotate(-45 346.9 575.16)">Vehicle</text>
<text x="359.7" y="573.86" font-size="8" text-anchor="end" textLength="14.44" lengthAdjust="spacingAndGlyphs" stroke="#2e2e2e" stroke-width="0.18" transform="rotate(-45 359.7 573.86)">DMF</text>
<text x="373.1" y="574.46" font-size="8" text-anchor="end" textLength="28.16" lengthAdjust="spacingAndGlyphs" stroke="#2e2e2e" stroke-width="0.18" transform="rotate(-45 373.1 574.46)">I-BET151</text>
<text x="386.1" y="574.46" font-size="8" text-anchor="end" textLength="54.89" lengthAdjust="spacingAndGlyphs" stroke="#2e2e2e" stroke-width="0.18" transform="rotate(-45 386.1 574.46)">DMF + I-BET 151</text>
<text x="486.25" y="487.2" font-size="10.2" text-anchor="middle" textLength="29.1" lengthAdjust="spacingAndGlyphs" fill="#222" stroke="#222" stroke-width="0.18">TBARS</text>
<line x1="459.5" y1="494.8" x2="459.5" y2="563.3" stroke="#1a1a1a" stroke-width="1.2"/>
<line x1="456.5" y1="496.23" x2="459.5" y2="496.23" stroke="#1a1a1a" stroke-width="1.2"/>
<text x="452.5" y="498.84" font-size="7.6" text-anchor="end" textLength="10.4" lengthAdjust="spacingAndGlyphs" stroke="#2e2e2e" stroke-width="0.18">2.5</text>
<line x1="456.5" y1="509.6" x2="459.5" y2="509.6" stroke="#1a1a1a" stroke-width="1.2"/>
<text x="452.5" y="512.21" font-size="7.6" text-anchor="end" textLength="10.4" lengthAdjust="spacingAndGlyphs" stroke="#2e2e2e" stroke-width="0.18">2.0</text>
<line x1="456.5" y1="522.98" x2="459.5" y2="522.98" stroke="#1a1a1a" stroke-width="1.2"/>
<text x="452.5" y="525.59" font-size="7.6" text-anchor="end" textLength="10.4" lengthAdjust="spacingAndGlyphs" stroke="#2e2e2e" stroke-width="0.18">1.5</text>
<line x1="456.5" y1="536.35" x2="459.5" y2="536.35" stroke="#1a1a1a" stroke-width="1.2"/>
<text x="452.5" y="538.96" font-size="7.6" text-anchor="end" textLength="10.4" lengthAdjust="spacingAndGlyphs" stroke="#2e2e2e" stroke-width="0.18">1.0</text>
<line x1="456.5" y1="549.73" x2="459.5" y2="549.73" stroke="#1a1a1a" stroke-width="1.2"/>
<text x="452.5" y="552.34" font-size="7.6" text-anchor="end" textLength="10.4" lengthAdjust="spacingAndGlyphs" stroke="#2e2e2e" stroke-width="0.18">0.5</text>
<line x1="456.5" y1="563.1" x2="459.5" y2="563.1" stroke="#1a1a1a" stroke-width="1.2"/>
<text x="452.5" y="565.71" font-size="7.6" text-anchor="end" textLength="10.4" lengthAdjust="spacingAndGlyphs" stroke="#2e2e2e" stroke-width="0.18">0.0</text>
<line x1="459.6" y1="563.5" x2="512" y2="563.5" stroke="#1a1a1a" stroke-width="1.2"/>
<line x1="466.5" y1="563.5" x2="466.5" y2="566.3" stroke="#1a1a1a" stroke-width="1.2"/>
<line x1="479.5" y1="563.5" x2="479.5" y2="566.3" stroke="#1a1a1a" stroke-width="1.2"/>
<line x1="492.5" y1="563.5" x2="492.5" y2="566.3" stroke="#1a1a1a" stroke-width="1.2"/>
<line x1="505.6" y1="563.5" x2="505.6" y2="566.3" stroke="#1a1a1a" stroke-width="1.2"/>
<line x1="466.65" y1="533.14" x2="466.65" y2="537.38" stroke="#2b2b2b" stroke-width="0.7"/>
<line x1="464.95" y1="533.14" x2="468.35" y2="533.14" stroke="#2b2b2b" stroke-width="0.7"/>
<rect x="462.8" y="536.88" width="7.7" height="26.22" fill="#495569" stroke="#333" stroke-width="0.4"/>
<line x1="479.65" y1="536.62" x2="479.65" y2="544.61" stroke="#2b2b2b" stroke-width="0.7"/>
<line x1="477.95" y1="536.62" x2="481.35" y2="536.62" stroke="#2b2b2b" stroke-width="0.7"/>
<rect x="475.8" y="544.11" width="7.7" height="18.99" fill="#c40026" stroke="#333" stroke-width="0.4"/>
<line x1="492.65" y1="537.69" x2="492.65" y2="545.95" stroke="#2b2b2b" stroke-width="0.7"/>
<line x1="490.95" y1="537.69" x2="494.35" y2="537.69" stroke="#2b2b2b" stroke-width="0.7"/>
<rect x="488.8" y="545.45" width="7.7" height="17.65" fill="#134d8c" stroke="#333" stroke-width="0.4"/>
<line x1="505.65" y1="503.98" x2="505.65" y2="508.5" stroke="#2b2b2b" stroke-width="0.7"/>
<line x1="503.95" y1="503.98" x2="507.35" y2="503.98" stroke="#2b2b2b" stroke-width="0.7"/>
<rect x="501.8" y="508" width="7.7" height="55.11" fill="#3aaa35" stroke="#333" stroke-width="0.4"/>
<line x1="466.2" y1="497.4" x2="504.9" y2="497.4" stroke="#333" stroke-width="1"/>
<text x="485.9" y="499.44" font-size="8.4" text-anchor="middle" textLength="5.8" lengthAdjust="spacingAndGlyphs" fill="#1e1e1e" stroke="#1e1e1e" stroke-width="0.18">**</text>
<text x="423.4" y="530.85" font-size="9.4" text-anchor="middle" textLength="67" lengthAdjust="spacingAndGlyphs" stroke="#2e2e2e" stroke-width="0.18" transform="rotate(-90 423.4 528.5)">Normal. absorbance</text>
<text x="435.5" y="530.65" font-size="9.4" text-anchor="middle" textLength="32.8" lengthAdjust="spacingAndGlyphs" stroke="#2e2e2e" stroke-width="0.18" transform="rotate(-90 435.5 528.3)">[530 nm]</text>
<text x="470.2" y="575.16" font-size="8" text-anchor="end" textLength="21.59" lengthAdjust="spacingAndGlyphs" stroke="#2e2e2e" stroke-width="0.18" transform="rotate(-45 470.2 575.16)">Vehicle</text>
<text x="482" y="573.86" font-size="8" text-anchor="end" textLength="14.16" lengthAdjust="spacingAndGlyphs" stroke="#2e2e2e" stroke-width="0.18" transform="rotate(-45 482 573.86)">DMF</text>
<text x="495.7" y="574.46" font-size="8" text-anchor="end" textLength="28.59" lengthAdjust="spacingAndGlyphs" stroke="#2e2e2e" stroke-width="0.18" transform="rotate(-45 495.7 574.46)">I-BET151</text>
<text x="508.1" y="574.46" font-size="8" text-anchor="end" textLength="54.89" lengthAdjust="spacingAndGlyphs" stroke="#2e2e2e" stroke-width="0.18" transform="rotate(-45 508.1 574.46)">DMF + I-BET 151</text>
<rect x="0.5" y="0.5" width="519" height="621" fill="none" stroke="#464646" stroke-width="1"/>
</svg>
</body></html>
